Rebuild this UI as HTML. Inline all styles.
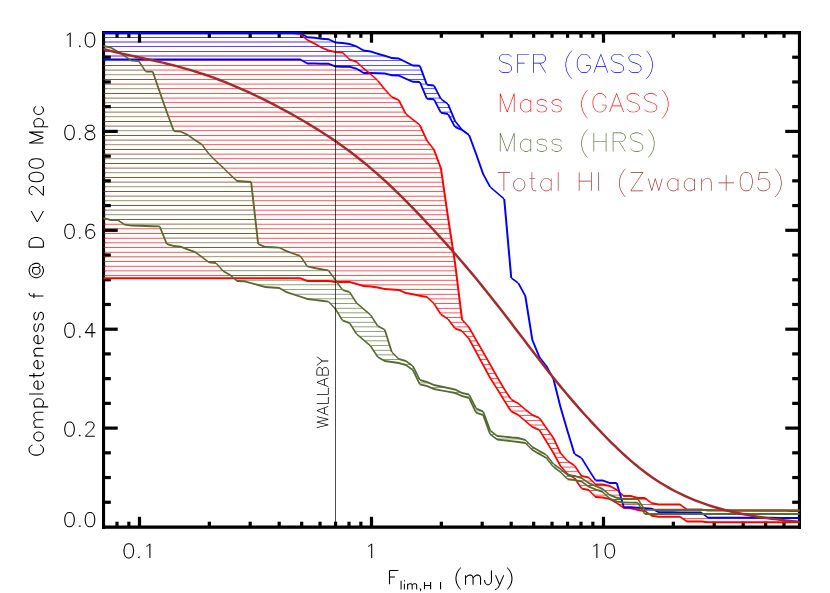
<!DOCTYPE html>
<html><head><meta charset="utf-8"><title>Completeness</title>
<style>
html,body{margin:0;padding:0;background:#fff;font-family:"Liberation Sans",sans-serif;}
svg{display:block}
</style></head><body>
<svg width="830" height="593" viewBox="0 0 830 593">
<rect width="830" height="593" fill="#fff"/>
<g stroke="none">
<path fill="#5a45e7" d="M103.5 37h200.65v1h-200.65zM103.5 46h3.16v1h-3.16zM106.66 46h213.33v1h-213.33zM103.5 51h13.79v1h-13.79zM117.29 51h215.15v1h-215.15zM302.44 60h50.76v1h-50.76zM332.53 65h27.8v1h-27.8z"/>
<path fill="#5454ff" d="M304.15 37h4.8v1h-4.8zM319.99 46h36.91v1h-36.91zM332.44 51h36.59v1h-36.59zM360.33 65h52.22v1h-52.22zM407.33 79h17.56v1h-17.56zM424.61 93h13.42v1h-13.42zM438.16 107h11.23v1h-11.23zM451.99 121h3.35v1h-3.35z"/>
<path fill="#b490de" d="M103.5 41h207.9v1h-207.9zM103.5 42h207.9v1h-207.9zM103.5 55h21.12v1h-21.12zM103.5 56h21.12v1h-21.12zM124.62 55h221.45v1h-221.45zM124.62 56h221.45v1h-221.45zM358.65 69h6.93v1h-6.93zM358.65 70h6.93v1h-6.93z"/>
<path fill="#ababff" d="M311.4 41h23.04v1h-23.04zM311.4 42h23.04v1h-23.04z"/>
<path fill="#fcfcff" d="M319.99 47h36.91v1h-36.91zM353.19 61h50.05v1h-50.05z"/>
<path fill="#aeaeff" d="M346.06 55h39.15v1h-39.15z"/>
<path fill="#a5a5ff" d="M346.06 56h39.15v1h-39.15z"/>
<path fill="#9fab8a" d="M103.5 60h29.67v1h-29.67zM103.5 74h50.28v1h-50.28zM103.5 88h55.11v1h-55.11zM103.5 102h60.01v1h-60.01zM103.5 116h65.03v1h-65.03zM103.5 130h70.21v1h-70.21zM103.5 144h98.62v1h-98.62zM103.5 158h110.25v1h-110.25zM103.5 172h124.83v1h-124.83zM103.5 186h148.18v1h-148.18zM103.5 200h149.77v1h-149.77zM103.5 214h151.36v1h-151.36zM160.72 228h95.73v1h-95.73zM166.31 242h91.72v1h-91.72zM201.74 256h99.2v1h-99.2zM222.91 270h105.91v1h-105.91zM403.33 364h7.11v1h-7.11zM579.54 480h6.34v1h-6.34zM605.98 494h3.9v1h-3.9zM641.78 508h2.53v1h-2.53z"/>
<path fill="#f6e7e4" d="M103.5 61h29.67v1h-29.67zM103.5 75h50.28v1h-50.28zM103.5 89h55.11v1h-55.11zM103.5 103h60.01v1h-60.01zM103.5 117h65.03v1h-65.03zM103.5 131h70.21v1h-70.21zM103.5 145h98.62v1h-98.62zM103.5 159h110.25v1h-110.25zM103.5 173h124.83v1h-124.83zM103.5 187h148.18v1h-148.18zM103.5 201h149.77v1h-149.77zM103.5 215h151.36v1h-151.36zM160.72 229h95.73v1h-95.73zM166.31 243h91.72v1h-91.72zM201.74 257h99.2v1h-99.2zM222.91 271h105.91v1h-105.91zM579.54 481h6.34v1h-6.34zM605.98 495h3.9v1h-3.9zM641.78 509h2.53v1h-2.53z"/>
<path fill="#ff5a5a" d="M133.17 60h169.27v1h-169.27zM490.36 378h7.6v1h-7.6zM499.23 392h7.2v1h-7.2zM519.08 415h14.85v1h-14.85zM538.65 429h8.95v1h-8.95z"/>
<path fill="#fffcfc" d="M133.17 61h169.27v1h-169.27zM490.36 377h7.6v1h-7.6zM499.23 391h7.2v1h-7.2zM519.08 416h14.85v1h-14.85zM538.65 430h8.95v1h-8.95z"/>
<path fill="#5a5aff" d="M353.19 60h50.05v1h-50.05z"/>
<path fill="#8a5730" d="M103.5 65h38.04v1h-38.04zM103.5 79h51.89v1h-51.89zM103.5 93h56.73v1h-56.73zM103.5 107h61.65v1h-61.65zM103.5 121h66.75v1h-66.75zM103.5 135h84.96v1h-84.96zM103.5 149h102.08v1h-102.08zM103.5 163h115.13v1h-115.13zM103.5 177h129.75v1h-129.75zM103.5 191h148.71v1h-148.71zM103.5 205h150.3v1h-150.3zM108.77 219h146.62v1h-146.62zM162.58 233h94.39v1h-94.39zM182.72 247h94.76v1h-94.76zM207.83 261h96.26v1h-96.26zM230.69 275h101.55v1h-101.55zM587.52 485h7.49v1h-7.49zM612.62 499h25.67v1h-25.67zM648.97 513h150.53v1h-150.53z"/>
<path fill="#ff5454" d="M141.54 65h190.99v1h-190.99zM155.39 79h221.16v1h-221.16zM160.23 93h228.21v1h-228.21zM165.15 107h237.33v1h-237.33zM170.25 121h245.02v1h-245.02zM188.46 135h236.13v1h-236.13zM205.58 149h228.3v1h-228.3zM218.63 163h220.45v1h-220.45zM233.25 177h209.01v1h-209.01zM252.21 191h192.07v1h-192.07zM253.8 205h192.52v1h-192.52zM103.5 219h5.27v1h-5.27zM255.39 219h192.98v1h-192.98zM103.5 233h59.08v1h-59.08zM256.98 233h193.53v1h-193.53zM103.5 247h79.22v1h-79.22zM277.48 247h175.17v1h-175.17zM103.5 261h104.33v1h-104.33zM304.09 261h150.7v1h-150.7zM103.5 275h127.19v1h-127.19zM332.24 275h124.34v1h-124.34zM392.61 289h65.71v1h-65.71zM433.97 303h26.09v1h-26.09zM445.78 317h16.03v1h-16.03zM462.57 331h8.77v1h-8.77zM472.65 345h6.74v1h-6.74zM480.23 359h7.2v1h-7.2zM487.81 373h7.5v1h-7.5zM496.33 387h7.1v1h-7.1zM504.96 401h9.92v1h-9.92zM507.92 406h13.62v1h-13.62zM524.55 420h16.48v1h-16.48zM542.04 434h8.84v1h-8.84zM550.61 448h7.69v1h-7.69zM558.51 462h11.15v1h-11.15zM575.93 476h7.5v1h-7.5zM589 490h9.18v1h-9.18zM604.3 490h13.2v1h-13.2zM618.71 504h20.16v1h-20.16zM641.3 504h16.64v1h-16.64zM682.49 518h117.01v1h-117.01z"/>
<path fill="#e1c3bd" d="M103.5 69h41.14v1h-41.14zM103.5 83h53.5v1h-53.5zM103.5 97h58.37v1h-58.37zM103.5 111h63.3v1h-63.3zM103.5 125h68.48v1h-68.48zM103.5 139h91.54v1h-91.54zM103.5 153h105.56v1h-105.56zM103.5 167h120.14v1h-120.14zM103.5 181h147.65v1h-147.65zM103.5 195h149.24v1h-149.24zM103.5 209h150.83v1h-150.83zM123.93 223h131.99v1h-131.99zM164.45 237h93.06v1h-93.06zM195.17 251h94.35v1h-94.35zM218.8 265h88.45v1h-88.45zM305.35 279h30.31v1h-30.31zM571.71 475h4.21v1h-4.21zM598.18 489h6.12v1h-6.12zM638.88 503h2.43v1h-2.43z"/>
<path fill="#bda88d" d="M103.5 70h41.14v1h-41.14zM103.5 84h53.5v1h-53.5zM103.5 98h58.37v1h-58.37zM103.5 112h63.3v1h-63.3zM103.5 126h68.48v1h-68.48zM103.5 140h91.54v1h-91.54zM103.5 154h105.56v1h-105.56zM103.5 168h120.14v1h-120.14zM103.5 182h147.65v1h-147.65zM103.5 196h149.24v1h-149.24zM103.5 210h150.83v1h-150.83zM123.93 224h131.99v1h-131.99zM164.45 238h93.06v1h-93.06zM195.17 252h94.35v1h-94.35zM218.8 266h88.45v1h-88.45zM305.35 280h30.31v1h-30.31zM571.71 476h4.21v1h-4.21zM598.18 490h6.12v1h-6.12zM638.88 504h2.43v1h-2.43z"/>
<path fill="#ffb4b4" d="M144.64 69h214.01v1h-214.01zM485.28 369h7.4v1h-7.4zM544.9 438h9.02v1h-9.02z"/>
<path fill="#ffa2a2" d="M144.64 70h214.01v1h-214.01zM485.28 368h7.4v1h-7.4zM544.9 439h9.02v1h-9.02z"/>
<path fill="#b4b4ff" d="M365.58 69h55.85v1h-55.85z"/>
<path fill="#a2a2ff" d="M365.58 70h55.85v1h-55.85z"/>
<path fill="#ff5d5d" d="M153.78 74h217.64v1h-217.64zM482.76 364h7.3v1h-7.3zM547.76 443h8.36v1h-8.36z"/>
<path fill="#fff6f6" d="M153.78 75h217.64v1h-217.64zM482.76 363h7.3v1h-7.3zM547.76 444h8.36v1h-8.36z"/>
<path fill="#5d5dff" d="M389.79 74h33.36v1h-33.36z"/>
<path fill="#f6f6ff" d="M389.79 75h33.36v1h-33.36z"/>
<path fill="#ffb7b7" d="M157 83h223.56v1h-223.56zM161.87 97h232.34v1h-232.34zM470.13 341h6.53v1h-6.53zM477.7 355h7.09v1h-7.09zM553.46 452h7.05v1h-7.05zM561.4 466h14.17v1h-14.17z"/>
<path fill="#ff9c9c" d="M157 84h223.56v1h-223.56zM161.87 98h232.34v1h-232.34zM477.7 354h7.09v1h-7.09zM553.46 453h7.05v1h-7.05zM561.4 467h14.17v1h-14.17z"/>
<path fill="#b7b7ff" d="M420.68 83h5.93v1h-5.93zM426.58 97h13.88v1h-13.88z"/>
<path fill="#9c9cff" d="M420.68 84h5.93v1h-5.93zM426.58 98h13.88v1h-13.88z"/>
<path fill="#ff6363" d="M158.61 88h225.64v1h-225.64zM475.18 350h6.95v1h-6.95zM555.99 457h8.62v1h-8.62z"/>
<path fill="#fff3f3" d="M158.61 89h225.64v1h-225.64zM475.18 349h6.95v1h-6.95zM555.99 458h8.62v1h-8.62z"/>
<path fill="#6363ff" d="M422.65 88h12.95v1h-12.95z"/>
<path fill="#f3f3ff" d="M422.65 89h12.95v1h-12.95z"/>
<path fill="#ff6666" d="M163.51 102h236.63v1h-236.63zM168.53 116h240.78v1h-240.78zM450.42 322h14.02v1h-14.02zM466.68 336h7.31v1h-7.31zM565.5 471h13.2v1h-13.2zM579.71 485h7.81v1h-7.81zM595.01 485h13.45v1h-13.45z"/>
<path fill="#ffeded" d="M163.51 103h236.63v1h-236.63zM168.53 117h240.78v1h-240.78zM466.68 335h7.31v1h-7.31zM565.5 472h13.2v1h-13.2zM579.71 486h7.81v1h-7.81zM595.01 486h13.45v1h-13.45z"/>
<path fill="#6666ff" d="M435.75 102h10.45v1h-10.45zM449.47 116h3.79v1h-3.79z"/>
<path fill="#ededff" d="M435.75 103h10.45v1h-10.45zM449.47 117h3.79v1h-3.79z"/>
<path fill="#ffbaba" d="M166.8 111h238.03v1h-238.03zM453.92 327h14.58v1h-14.58zM576.59 480h2.96v1h-2.96zM585.88 480h6.3v1h-6.3z"/>
<path fill="#ff9999" d="M166.8 112h238.03v1h-238.03zM453.92 326h14.58v1h-14.58zM470.13 340h6.53v1h-6.53zM576.59 481h2.96v1h-2.96zM585.88 481h6.3v1h-6.3z"/>
<path fill="#babaff" d="M440.58 111h10.75v1h-10.75z"/>
<path fill="#9999ff" d="M440.58 112h10.75v1h-10.75z"/>
<path fill="#ffc0c0" d="M171.98 125h248.37v1h-248.37zM439.94 313h21.28v1h-21.28zM593.69 494h12.29v1h-12.29zM609.89 494h12.83v1h-12.83z"/>
<path fill="#ff9696" d="M171.98 126h248.37v1h-248.37zM439.94 312h21.28v1h-21.28zM593.69 495h12.29v1h-12.29zM609.89 495h12.83v1h-12.83z"/>
<path fill="#c0c0ff" d="M454.52 125h4.6v1h-4.6z"/>
<path fill="#9696ff" d="M454.52 126h4.6v1h-4.6z"/>
<path fill="#ff6969" d="M173.71 130h248.76v1h-248.76zM436.96 308h23.69v1h-23.69zM611 499h1.61v1h-1.61zM638.29 499h8.87v1h-8.87z"/>
<path fill="#ffeaea" d="M173.71 131h248.76v1h-248.76zM436.96 307h23.69v1h-23.69zM450.42 321h14.02v1h-14.02zM611 500h1.61v1h-1.61zM638.29 500h8.87v1h-8.87z"/>
<path fill="#6969ff" d="M463.1 130h0.34v1h-0.34z"/>
<path fill="#eaeaff" d="M463.1 131h0.34v1h-0.34z"/>
<path fill="#ffc3c3" d="M195.04 139h231.67v1h-231.67zM209.06 153h226.57v1h-226.57zM428.95 299h30.53v1h-30.53zM634.27 508h7.52v1h-7.52zM644.31 508h42.12v1h-42.12z"/>
<path fill="#ff9090" d="M195.04 140h231.67v1h-231.67zM209.06 154h226.57v1h-226.57zM428.95 298h30.53v1h-30.53zM634.27 509h7.52v1h-7.52zM644.31 509h42.12v1h-42.12z"/>
<path fill="#ff6f6f" d="M202.12 144h228.11v1h-228.11zM412.3 294h46.6v1h-46.6z"/>
<path fill="#ffe4e4" d="M202.12 145h228.11v1h-228.11zM412.3 293h46.6v1h-46.6z"/>
<path fill="#ff7272" d="M213.75 158h223.6v1h-223.6zM228.33 172h213.25v1h-213.25zM335.65 280h121.5v1h-121.5z"/>
<path fill="#ffe1e1" d="M213.75 159h223.6v1h-223.6zM228.33 173h213.25v1h-213.25zM335.65 279h121.5v1h-121.5z"/>
<path fill="#ffc9c9" d="M223.64 167h217.18v1h-217.18zM103.5 271h119.41v1h-119.41zM328.82 271h127.18v1h-127.18zM359.72 285h98.02v1h-98.02z"/>
<path fill="#ff8d8d" d="M223.64 168h217.18v1h-217.18zM103.5 270h119.41v1h-119.41zM328.82 270h127.18v1h-127.18zM359.72 284h98.02v1h-98.02z"/>
<path fill="#ffcccc" d="M251.15 181h191.78v1h-191.78zM103.5 257h98.24v1h-98.24zM300.93 257h153.14v1h-153.14z"/>
<path fill="#ff8787" d="M251.15 182h191.78v1h-191.78zM103.5 256h98.24v1h-98.24zM300.93 256h153.14v1h-153.14z"/>
<path fill="#ff7878" d="M251.68 186h191.93v1h-191.93zM103.5 252h91.67v1h-91.67zM289.52 252h163.85v1h-163.85zM103.5 266h115.3v1h-115.3zM307.25 266h148.17v1h-148.17z"/>
<path fill="#ffdede" d="M251.68 187h191.93v1h-191.93zM103.5 251h91.67v1h-91.67zM289.52 251h163.85v1h-163.85zM103.5 265h115.3v1h-115.3zM307.25 265h148.17v1h-148.17z"/>
<path fill="#ffcfcf" d="M252.74 195h192.22v1h-192.22zM254.33 209h192.66v1h-192.66zM103.5 243h62.81v1h-62.81zM258.04 243h193.9v1h-193.9z"/>
<path fill="#ff8484" d="M252.74 196h192.22v1h-192.22zM254.33 210h192.66v1h-192.66zM103.5 242h62.81v1h-62.81zM258.04 242h193.9v1h-193.9z"/>
<path fill="#ff7b7b" d="M253.27 200h192.37v1h-192.37zM103.5 238h60.95v1h-60.95zM257.51 238h193.72v1h-193.72z"/>
<path fill="#ffd8d8" d="M253.27 201h192.37v1h-192.37zM103.5 237h60.95v1h-60.95zM257.51 237h193.72v1h-193.72z"/>
<path fill="#ff7e7e" d="M254.86 214h192.81v1h-192.81zM103.5 224h20.43v1h-20.43zM255.92 224h193.16v1h-193.16zM103.5 228h57.22v1h-57.22zM256.45 228h193.35v1h-193.35z"/>
<path fill="#ffd5d5" d="M254.86 215h192.81v1h-192.81zM103.5 223h20.43v1h-20.43zM255.92 223h193.16v1h-193.16zM103.5 229h57.22v1h-57.22zM256.45 229h193.35v1h-193.35z"/>
<path fill="#e4eae1" d="M236.16 279h69.19v1h-69.19z"/>
<path fill="#aeb799" d="M236.16 280h69.19v1h-69.19zM257.53 284h81.41v1h-81.41z"/>
<path fill="#e4e7db" d="M257.53 285h81.41v1h-81.41zM307.09 299h46.88v1h-46.88z"/>
<path fill="#93a27b" d="M282 289h60.22v1h-60.22zM340.75 317h31.56v1h-31.56zM355.06 331h30.28v1h-30.28zM370.2 345h19.54v1h-19.54zM414.61 373h2.06v1h-2.06zM430.76 387h15.59v1h-15.59zM470.83 401h1.85v1h-1.85zM490.38 434h4.72v1h-4.72zM526.02 443h3.01v1h-3.01zM545.91 457h2.62v1h-2.62zM549.83 462h2.34v1h-2.34zM564.71 476h7.01v1h-7.01z"/>
<path fill="#e7eae4" d="M293.02 293h57.97v1h-57.97z"/>
<path fill="#abb496" d="M293.02 294h57.97v1h-57.97z"/>
<path fill="#b1ba9f" d="M307.09 298h46.88v1h-46.88z"/>
<path fill="#909f78" d="M330.35 303h26.92v1h-26.92zM382.3 359h18.68v1h-18.68zM483.38 415h1.3v1h-1.3zM488.51 429h1.35v1h-1.35zM530.71 448h4.05v1h-4.05zM560.09 471h3.58v1h-3.58z"/>
<path fill="#eaede7" d="M334.78 307h27.95v1h-27.95zM347.47 321h27.82v1h-27.82z"/>
<path fill="#a8b493" d="M334.78 308h27.95v1h-27.95z"/>
<path fill="#b4bda2" d="M337.89 312h30.32v1h-30.32z"/>
<path fill="#e1e4d8" d="M337.89 313h30.32v1h-30.32z"/>
<path fill="#a5b190" d="M347.47 322h27.82v1h-27.82zM359.25 336h27.55v1h-27.55z"/>
<path fill="#b4c0a5" d="M352.07 326h27.42v1h-27.42zM364.72 340h23.55v1h-23.55z"/>
<path fill="#dee1d5" d="M352.07 327h27.42v1h-27.42z"/>
<path fill="#edf0ea" d="M359.25 335h27.55v1h-27.55z"/>
<path fill="#dbded2" d="M364.72 341h23.55v1h-23.55zM376.37 355h18.34v1h-18.34z"/>
<path fill="#f0f3ed" d="M373.39 349h17.81v1h-17.81z"/>
<path fill="#a2ae8d" d="M373.39 350h17.81v1h-17.81z"/>
<path fill="#b7c0a8" d="M376.37 354h18.34v1h-18.34z"/>
<path fill="#f3f6f0" d="M403.33 363h7.11v1h-7.11zM416.89 377h2.12v1h-2.12z"/>
<path fill="#bac3ab" d="M411.38 368h2.94v1h-2.94z"/>
<path fill="#d8dbcf" d="M411.38 369h2.94v1h-2.94z"/>
<path fill="#9ca887" d="M416.89 378h2.12v1h-2.12z"/>
<path fill="#bdc6ae" d="M419.17 382h10.02v1h-10.02zM465.54 396h4.79v1h-4.79z"/>
<path fill="#d5dbcc" d="M419.17 383h10.02v1h-10.02z"/>
<path fill="#ffa5a5" d="M493.35 382h7.35v1h-7.35zM530.03 425h14.29v1h-14.29z"/>
<path fill="#ffaeae" d="M493.35 383h7.35v1h-7.35zM530.03 424h14.29v1h-14.29z"/>
<path fill="#f6f9f6" d="M451.44 391h9.24v1h-9.24z"/>
<path fill="#99a581" d="M451.44 392h9.24v1h-9.24zM473.06 406h1.96v1h-1.96zM644.69 513h4.28v1h-4.28z"/>
<path fill="#d2d8c9" d="M465.54 397h4.79v1h-4.79z"/>
<path fill="#ffabab" d="M502.08 396h7.45v1h-7.45zM502.08 397h7.45v1h-7.45zM510.88 410h16.36v1h-16.36zM510.88 411h16.36v1h-16.36z"/>
<path fill="#f9f9f9" d="M473.06 405h1.96v1h-1.96zM644.69 514h4.28v1h-4.28z"/>
<path fill="#c0c9b4" d="M475.3 410h6.68v1h-6.68z"/>
<path fill="#cfd5c3" d="M475.3 411h6.68v1h-6.68zM486.8 425h1.33v1h-1.33z"/>
<path fill="#fcfcfc" d="M485.09 419h1.32v1h-1.32zM490.38 433h4.72v1h-4.72z"/>
<path fill="#96a57e" d="M485.09 420h1.32v1h-1.32z"/>
<path fill="#c3ccb7" d="M486.8 424h1.33v1h-1.33z"/>
<path fill="#c6cfba" d="M496.57 438h25.34v1h-25.34zM537.7 452h5.27v1h-5.27zM553.52 467h4.22v1h-4.22z"/>
<path fill="#ccd2c0" d="M496.57 439h25.34v1h-25.34z"/>
<path fill="#c9cfbd" d="M537.7 453h5.27v1h-5.27zM553.52 466h4.22v1h-4.22z"/>
</g>
<g fill="#000">
<rect x="102" y="31" width="699" height="3.4"/>
<rect x="102" y="525.5" width="699" height="3.3"/>
<rect x="102" y="31" width="3.1" height="497.8"/>
<rect x="797.9" y="31" width="3.1" height="497.8"/>
<rect x="137.9" y="516.8" width="3.2" height="10.2"/>
<rect x="137.9" y="32.5" width="3.2" height="10.2"/>
<rect x="369.9" y="516.8" width="3.2" height="10.2"/>
<rect x="369.9" y="32.5" width="3.2" height="10.2"/>
<rect x="601.9" y="516.8" width="3.2" height="10.2"/>
<rect x="601.9" y="32.5" width="3.2" height="10.2"/>
<rect x="115.42" y="521.7" width="3.2" height="5.3"/>
<rect x="115.42" y="32.5" width="3.2" height="5.3"/>
<rect x="127.28" y="521.7" width="3.2" height="5.3"/>
<rect x="127.28" y="32.5" width="3.2" height="5.3"/>
<rect x="207.74" y="521.7" width="3.2" height="5.3"/>
<rect x="207.74" y="32.5" width="3.2" height="5.3"/>
<rect x="248.59" y="521.7" width="3.2" height="5.3"/>
<rect x="248.59" y="32.5" width="3.2" height="5.3"/>
<rect x="277.58" y="521.7" width="3.2" height="5.3"/>
<rect x="277.58" y="32.5" width="3.2" height="5.3"/>
<rect x="300.06" y="521.7" width="3.2" height="5.3"/>
<rect x="300.06" y="32.5" width="3.2" height="5.3"/>
<rect x="318.43" y="521.7" width="3.2" height="5.3"/>
<rect x="318.43" y="32.5" width="3.2" height="5.3"/>
<rect x="333.96" y="521.7" width="3.2" height="5.3"/>
<rect x="333.96" y="32.5" width="3.2" height="5.3"/>
<rect x="347.42" y="521.7" width="3.2" height="5.3"/>
<rect x="347.42" y="32.5" width="3.2" height="5.3"/>
<rect x="359.28" y="521.7" width="3.2" height="5.3"/>
<rect x="359.28" y="32.5" width="3.2" height="5.3"/>
<rect x="439.74" y="521.7" width="3.2" height="5.3"/>
<rect x="439.74" y="32.5" width="3.2" height="5.3"/>
<rect x="480.59" y="521.7" width="3.2" height="5.3"/>
<rect x="480.59" y="32.5" width="3.2" height="5.3"/>
<rect x="509.58" y="521.7" width="3.2" height="5.3"/>
<rect x="509.58" y="32.5" width="3.2" height="5.3"/>
<rect x="532.06" y="521.7" width="3.2" height="5.3"/>
<rect x="532.06" y="32.5" width="3.2" height="5.3"/>
<rect x="550.43" y="521.7" width="3.2" height="5.3"/>
<rect x="550.43" y="32.5" width="3.2" height="5.3"/>
<rect x="565.96" y="521.7" width="3.2" height="5.3"/>
<rect x="565.96" y="32.5" width="3.2" height="5.3"/>
<rect x="579.42" y="521.7" width="3.2" height="5.3"/>
<rect x="579.42" y="32.5" width="3.2" height="5.3"/>
<rect x="591.28" y="521.7" width="3.2" height="5.3"/>
<rect x="591.28" y="32.5" width="3.2" height="5.3"/>
<rect x="671.74" y="521.7" width="3.2" height="5.3"/>
<rect x="671.74" y="32.5" width="3.2" height="5.3"/>
<rect x="712.59" y="521.7" width="3.2" height="5.3"/>
<rect x="712.59" y="32.5" width="3.2" height="5.3"/>
<rect x="741.58" y="521.7" width="3.2" height="5.3"/>
<rect x="741.58" y="32.5" width="3.2" height="5.3"/>
<rect x="764.06" y="521.7" width="3.2" height="5.3"/>
<rect x="764.06" y="32.5" width="3.2" height="5.3"/>
<rect x="782.43" y="521.7" width="3.2" height="5.3"/>
<rect x="782.43" y="32.5" width="3.2" height="5.3"/>
<rect x="103.5" y="500.67" width="7.3" height="3.2"/>
<rect x="792.2" y="500.67" width="7.3" height="3.2"/>
<rect x="103.5" y="475.95" width="7.3" height="3.2"/>
<rect x="792.2" y="475.95" width="7.3" height="3.2"/>
<rect x="103.5" y="451.22" width="7.3" height="3.2"/>
<rect x="792.2" y="451.22" width="7.3" height="3.2"/>
<rect x="103.5" y="426.5" width="14.2" height="3.2"/>
<rect x="785.3" y="426.5" width="14.2" height="3.2"/>
<rect x="103.5" y="401.77" width="7.3" height="3.2"/>
<rect x="792.2" y="401.77" width="7.3" height="3.2"/>
<rect x="103.5" y="377.05" width="7.3" height="3.2"/>
<rect x="792.2" y="377.05" width="7.3" height="3.2"/>
<rect x="103.5" y="352.32" width="7.3" height="3.2"/>
<rect x="792.2" y="352.32" width="7.3" height="3.2"/>
<rect x="103.5" y="327.6" width="14.2" height="3.2"/>
<rect x="785.3" y="327.6" width="14.2" height="3.2"/>
<rect x="103.5" y="302.88" width="7.3" height="3.2"/>
<rect x="792.2" y="302.88" width="7.3" height="3.2"/>
<rect x="103.5" y="278.15" width="7.3" height="3.2"/>
<rect x="792.2" y="278.15" width="7.3" height="3.2"/>
<rect x="103.5" y="253.42" width="7.3" height="3.2"/>
<rect x="792.2" y="253.42" width="7.3" height="3.2"/>
<rect x="103.5" y="228.7" width="14.2" height="3.2"/>
<rect x="785.3" y="228.7" width="14.2" height="3.2"/>
<rect x="103.5" y="203.97" width="7.3" height="3.2"/>
<rect x="792.2" y="203.97" width="7.3" height="3.2"/>
<rect x="103.5" y="179.25" width="7.3" height="3.2"/>
<rect x="792.2" y="179.25" width="7.3" height="3.2"/>
<rect x="103.5" y="154.53" width="7.3" height="3.2"/>
<rect x="792.2" y="154.53" width="7.3" height="3.2"/>
<rect x="103.5" y="129.8" width="14.2" height="3.2"/>
<rect x="785.3" y="129.8" width="14.2" height="3.2"/>
<rect x="103.5" y="105.07" width="7.3" height="3.2"/>
<rect x="792.2" y="105.07" width="7.3" height="3.2"/>
<rect x="103.5" y="80.35" width="7.3" height="3.2"/>
<rect x="792.2" y="80.35" width="7.3" height="3.2"/>
<rect x="103.5" y="55.62" width="7.3" height="3.2"/>
<rect x="792.2" y="55.62" width="7.3" height="3.2"/>
</g>
<g stroke="none">
<path fill="#15009f" d="M103.5 37h1.6v1h-1.6zM103.5 46h1.6v1h-1.6zM103.5 51h1.6v1h-1.6z"/>
<path fill="#24004e" d="M103.5 41h1.6v1h-1.6zM103.5 42h1.6v1h-1.6zM103.5 55h1.6v1h-1.6zM103.5 56h1.6v1h-1.6z"/>
<path fill="#182100" d="M103.5 60h1.6v1h-1.6zM103.5 74h1.6v1h-1.6zM103.5 88h1.6v1h-1.6zM103.5 102h1.6v1h-1.6zM103.5 116h1.6v1h-1.6zM103.5 130h1.6v1h-1.6zM103.5 144h1.6v1h-1.6zM103.5 158h1.6v1h-1.6zM103.5 172h1.6v1h-1.6zM103.5 186h1.6v1h-1.6zM103.5 200h1.6v1h-1.6zM103.5 214h1.6v1h-1.6z"/>
<path fill="#120300" d="M103.5 61h1.6v1h-1.6zM103.5 75h1.6v1h-1.6zM103.5 89h1.6v1h-1.6zM103.5 103h1.6v1h-1.6zM103.5 117h1.6v1h-1.6zM103.5 131h1.6v1h-1.6zM103.5 145h1.6v1h-1.6zM103.5 159h1.6v1h-1.6zM103.5 173h1.6v1h-1.6zM103.5 187h1.6v1h-1.6zM103.5 201h1.6v1h-1.6zM103.5 215h1.6v1h-1.6z"/>
<path fill="#5a2700" d="M103.5 65h1.6v1h-1.6zM103.5 79h1.6v1h-1.6zM103.5 93h1.6v1h-1.6zM103.5 107h1.6v1h-1.6zM103.5 121h1.6v1h-1.6zM103.5 135h1.6v1h-1.6zM103.5 149h1.6v1h-1.6zM103.5 163h1.6v1h-1.6zM103.5 177h1.6v1h-1.6zM103.5 191h1.6v1h-1.6zM103.5 205h1.6v1h-1.6z"/>
<path fill="#240600" d="M103.5 69h1.6v1h-1.6zM103.5 83h1.6v1h-1.6zM103.5 97h1.6v1h-1.6zM103.5 111h1.6v1h-1.6zM103.5 125h1.6v1h-1.6zM103.5 139h1.6v1h-1.6zM103.5 153h1.6v1h-1.6zM103.5 167h1.6v1h-1.6zM103.5 181h1.6v1h-1.6zM103.5 195h1.6v1h-1.6zM103.5 209h1.6v1h-1.6z"/>
<path fill="#331b00" d="M103.5 70h1.6v1h-1.6zM103.5 84h1.6v1h-1.6zM103.5 98h1.6v1h-1.6zM103.5 112h1.6v1h-1.6zM103.5 126h1.6v1h-1.6zM103.5 140h1.6v1h-1.6zM103.5 154h1.6v1h-1.6zM103.5 168h1.6v1h-1.6zM103.5 182h1.6v1h-1.6zM103.5 196h1.6v1h-1.6zM103.5 210h1.6v1h-1.6z"/>
<path fill="#ab0000" d="M103.5 219h1.6v1h-1.6zM103.5 233h1.6v1h-1.6zM103.5 247h1.6v1h-1.6zM103.5 261h1.6v1h-1.6zM103.5 275h1.6v1h-1.6z"/>
<path fill="#2a0000" d="M103.5 223h1.6v1h-1.6zM103.5 229h1.6v1h-1.6z"/>
<path fill="#7e0000" d="M103.5 224h1.6v1h-1.6zM103.5 228h1.6v1h-1.6z"/>
<path fill="#270000" d="M103.5 237h1.6v1h-1.6z"/>
<path fill="#840000" d="M103.5 238h1.6v1h-1.6z"/>
<path fill="#7b0000" d="M103.5 242h1.6v1h-1.6z"/>
<path fill="#300000" d="M103.5 243h1.6v1h-1.6z"/>
<path fill="#210000" d="M103.5 251h1.6v1h-1.6zM103.5 265h1.6v1h-1.6z"/>
<path fill="#870000" d="M103.5 252h1.6v1h-1.6zM103.5 266h1.6v1h-1.6z"/>
<path fill="#780000" d="M103.5 256h1.6v1h-1.6z"/>
<path fill="#330000" d="M103.5 257h1.6v1h-1.6z"/>
<path fill="#720000" d="M103.5 270h1.6v1h-1.6z"/>
<path fill="#360000" d="M103.5 271h1.6v1h-1.6z"/>
</g>
<g stroke="none">
<path fill="#0000ff" d="M103.5 58.5L110.53 58.5L110.53 60.5L103.5 60.5zM110.53 58.5L117.56 58.5L117.56 60.5L110.53 60.5zM117.56 58.5L124.59 58.5L124.59 60.5L117.56 60.5zM124.59 58.5L131.62 58.5L131.62 60.5L124.59 60.5zM131.62 58.5L138.65 58.5L138.65 60.5L131.62 60.5zM138.65 58.5L145.68 58.5L145.68 60.5L138.65 60.5zM145.68 58.5L152.71 58.5L152.71 60.5L145.68 60.5zM152.71 58.5L159.74 58.5L159.74 60.5L152.71 60.5zM159.74 58.5L166.77 58.5L166.77 60.5L159.74 60.5zM166.77 58.5L173.8 58.5L173.8 60.5L166.77 60.5zM173.8 58.5L180.83 58.5L180.83 60.5L173.8 60.5zM180.83 58.5L187.86 58.5L187.86 60.5L180.83 60.5zM187.86 58.5L194.89 58.5L194.89 60.5L187.86 60.5zM194.89 58.5L201.92 58.5L201.92 60.5L194.89 60.5zM201.92 58.5L208.95 58.5L208.95 60.5L201.92 60.5zM208.95 58.5L215.98 58.5L215.98 60.5L208.95 60.5zM215.98 58.5L223.02 58.5L223.02 60.5L215.98 60.5zM223.02 58.5L230.05 58.5L230.05 60.5L223.02 60.5zM230.05 58.5L237.08 58.5L237.08 60.5L230.05 60.5zM237.08 58.5L244.11 58.5L244.11 60.5L237.08 60.5zM244.11 58.5L251.14 58.5L251.14 60.5L244.11 60.5zM251.14 58.5L258.17 58.5L258.17 60.5L251.14 60.5zM258.17 58.5L265.2 58.5L265.2 60.5L258.17 60.5zM265.2 58.5L272.23 58.5L272.23 60.5L265.2 60.5zM272.23 58.5L279.26 58.5L279.26 60.5L272.23 60.5zM279.26 58.5L286.29 58.5L286.29 60.5L279.26 60.5zM286.29 58.5L293.32 58.5L293.32 60.5L286.29 60.5zM293.32 58.5L300.35 58.5L300.35 60.5L293.32 60.5zM300.35 58.5L307.38 62.5L307.38 64.5L300.35 60.5zM307.38 62.5L314.41 62.6L314.41 64.6L307.38 64.5zM314.41 62.6L321.44 62.7L321.44 64.7L314.41 64.6zM321.44 62.7L328.47 62.8L328.47 64.8L321.44 64.7zM328.47 62.8L335.5 65.5L335.5 67.5L328.47 64.8zM335.5 65.5L342.53 65.65L342.53 67.65L335.5 67.5zM342.53 65.65L349.56 65.8L349.56 67.8L342.53 67.65zM349.56 65.8L356.59 67.8L356.59 69.8L349.56 67.8zM356.59 67.8L363.62 72L363.62 74L356.59 69.8zM363.62 72L370.65 72.1L370.65 74.1L363.62 74zM370.65 72.1L377.68 72.2L377.68 74.2L370.65 74.1zM377.68 72.2L384.71 72.4L384.71 74.4L377.68 74.2zM384.71 72.4L391.74 74.2L391.74 76.2L384.71 74.4zM391.74 74.2L398.77 74.6L398.77 76.6L391.74 76.2zM398.77 74.6L405.8 77.7L405.8 79.7L398.77 76.6zM405.8 77.7L412.83 80.8L412.83 82.8L405.8 79.7zM412.83 80.8L419.86 81.1L419.86 83.1L412.83 82.8zM420.86 82.1L427.89 98.8L425.89 98.8L418.86 82.1zM426.89 97.8L433.92 98.2L433.92 100.2L426.89 99.8zM434.92 99.2L441.95 112.8L439.95 112.8L432.92 99.2zM440.95 111.8L447.98 113L447.98 115L440.95 113.8zM448.98 114L456.02 127L454.02 127L446.98 114zM455.02 126L462.05 129L462.05 131L455.02 128zM462.05 129L469.08 134L469.08 136L462.05 131z"/>
<path fill="#ff0000" d="M103.5 277.3L110.53 277.3L110.53 279.3L103.5 279.3zM110.53 277.3L117.56 277.3L117.56 279.3L110.53 279.3zM117.56 277.3L124.59 277.3L124.59 279.3L117.56 279.3zM124.59 277.3L131.62 277.3L131.62 279.3L124.59 279.3zM131.62 277.3L138.65 277.3L138.65 279.3L131.62 279.3zM138.65 277.3L145.68 277.3L145.68 279.3L138.65 279.3zM145.68 277.3L152.71 277.3L152.71 279.3L145.68 279.3zM152.71 277.3L159.74 277.3L159.74 279.3L152.71 279.3zM159.74 277.3L166.77 277.3L166.77 279.3L159.74 279.3zM166.77 277.3L173.8 277.3L173.8 279.3L166.77 279.3zM173.8 277.3L180.83 277.3L180.83 279.3L173.8 279.3zM180.83 277.3L187.86 277.3L187.86 279.3L180.83 279.3zM187.86 277.3L194.89 277.3L194.89 279.3L187.86 279.3zM194.89 277.3L201.92 277.3L201.92 279.3L194.89 279.3zM201.92 277.3L208.95 277.3L208.95 279.3L201.92 279.3zM208.95 277.3L215.98 277.3L215.98 279.3L208.95 279.3zM215.98 277.3L223.02 277.3L223.02 279.3L215.98 279.3zM223.02 277.3L230.05 277.3L230.05 279.3L223.02 279.3zM230.05 277.3L237.08 277.3L237.08 279.3L230.05 279.3zM237.08 277.3L244.11 277.3L244.11 279.3L237.08 279.3zM244.11 277.3L251.14 277.3L251.14 279.3L244.11 279.3zM251.14 277.3L258.17 277.3L258.17 279.3L251.14 279.3zM258.17 277.3L265.2 277.3L265.2 279.3L258.17 279.3zM265.2 277.3L272.23 277.3L272.23 279.3L265.2 279.3zM272.23 277.3L279.26 277.3L279.26 279.3L272.23 279.3zM279.26 277.3L286.29 277.3L286.29 279.3L279.26 279.3zM286.29 277.3L293.32 277.3L293.32 279.3L286.29 279.3zM293.32 277.3L300.35 277.3L300.35 279.3L293.32 279.3zM300.35 277.3L307.38 280L307.38 282L300.35 279.3zM307.38 280L314.41 280L314.41 282L307.38 282zM314.41 280L321.44 280L321.44 282L314.41 282zM321.44 280L328.47 280L328.47 282L321.44 282zM328.47 280L335.5 281L335.5 283L328.47 282zM335.5 281L342.53 281L342.53 283L335.5 283zM342.53 281L349.56 281L349.56 283L342.53 283zM349.56 281L356.59 283L356.59 285L349.56 283zM356.59 283L363.62 285L363.62 287L356.59 285zM363.62 285L370.65 285.4L370.65 287.4L363.62 287zM370.65 285.4L377.68 286.6L377.68 288.6L370.65 287.4zM377.68 286.6L384.71 288L384.71 290L377.68 288.6zM384.71 288L391.74 288.5L391.74 290.5L384.71 290zM391.74 288.5L398.77 289L398.77 291L391.74 290.5zM398.77 289L405.8 292L405.8 294L398.77 291zM405.8 292L412.83 293.33L412.83 295.33L405.8 294zM412.83 293.33L419.86 294.67L419.86 296.67L412.83 295.33zM419.86 294.67L426.89 296L426.89 298L419.86 296.67zM426.89 296L433.92 302.5L433.92 304.5L426.89 298zM434.92 303.5L441.95 314.5L439.95 314.5L432.92 303.5zM440.95 313.5L447.98 318L447.98 320L440.95 315.5zM448.98 319L456.02 328.4L454.02 328.4L446.98 319zM455.02 327.4L462.05 330L462.05 332L455.02 329.4zM463.05 331L470.08 339L468.08 339L461.05 331zM470.08 339L477.11 352L475.11 352L468.08 339zM477.11 352L484.14 365L482.14 365L475.11 352zM484.14 365L491.17 378L489.17 378L482.14 365zM491.17 378L498.2 389L496.2 389L489.17 378zM498.2 389L505.23 400.5L503.23 400.5L496.2 389zM505.23 400.5L512.26 411.6L510.26 411.6L503.23 400.5zM511.26 410.6L518.29 414L518.29 416L511.26 412.6zM518.29 414L525.32 420L525.32 422L518.29 416zM525.32 420L532.35 426L532.35 428L525.32 422zM532.35 426L539.38 429L539.38 431L532.35 428zM540.38 430L547.41 441.5L545.41 441.5L538.38 430zM547.41 441.5L554.44 453L552.44 453L545.41 441.5zM554.44 453L561.47 466L559.47 466L552.44 453zM561.47 466L568.5 474L566.5 474L559.47 466zM567.5 473L574.53 477L574.53 479L567.5 475zM575.53 478L582.56 488.5L580.56 488.5L573.53 478zM581.56 487.5L588.59 489L588.59 491L581.56 489.5zM588.59 489L595.62 496L595.62 498L588.59 491zM595.62 496L602.65 496.5L602.65 498.5L595.62 498zM602.65 496.5L609.68 498L609.68 500L602.65 498.5zM609.68 498L616.71 502L616.71 504L609.68 500zM616.71 502L623.74 507L623.74 509L616.71 504zM623.74 507L630.77 507.2L630.77 509.2L623.74 509zM630.77 507.2L637.8 509L637.8 511L630.77 509.2zM637.8 509L644.83 510L644.83 512L637.8 511zM644.83 510L651.86 514.7L651.86 516.7L644.83 512zM651.86 514.7L658.89 515.8L658.89 517.8L651.86 516.7zM658.89 515.8L665.92 515.8L665.92 517.8L658.89 517.8zM665.92 515.8L672.95 515.8L672.95 517.8L665.92 517.8zM672.95 515.8L679.98 515.8L679.98 517.8L672.95 517.8zM679.98 515.8L687.02 520.4L687.02 522.4L679.98 517.8zM687.02 520.4L694.05 520.4L694.05 522.4L687.02 522.4zM694.05 520.4L701.08 520.4L701.08 522.4L694.05 522.4zM701.08 520.4L708.11 521.3L708.11 523.3L701.08 522.4zM708.11 521.3L715.14 521.3L715.14 523.3L708.11 523.3zM715.14 521.3L722.17 521.3L722.17 523.3L715.14 523.3zM722.17 521.3L729.2 521.3L729.2 523.3L722.17 523.3zM729.2 521.3L736.23 521.3L736.23 523.3L729.2 523.3zM736.23 521.3L743.26 521.3L743.26 523.3L736.23 523.3zM743.26 521.3L750.29 521.3L750.29 523.3L743.26 523.3zM750.29 521.3L757.32 521.3L757.32 523.3L750.29 523.3zM757.32 521.3L764.35 521.3L764.35 523.3L757.32 523.3zM764.35 521.3L771.38 521.3L771.38 523.3L764.35 523.3zM771.38 521.3L778.41 521.3L778.41 523.3L771.38 523.3zM778.41 521.3L785.44 521.3L785.44 523.3L778.41 523.3zM785.44 521.3L792.47 521.3L792.47 523.3L785.44 523.3zM792.47 521.3L799.5 521.3L799.5 523.3L792.47 523.3z"/>
<path fill="#ff0000" d="M103.5 32L110.53 32L110.53 34L103.5 34zM110.53 32L117.56 32L117.56 34L110.53 34zM117.56 32L124.59 32L124.59 34L117.56 34zM124.59 32L131.62 32L131.62 34L124.59 34zM131.62 32L138.65 32L138.65 34L131.62 34zM138.65 32L145.68 32L145.68 34L138.65 34zM145.68 32L152.71 32L152.71 34L145.68 34zM152.71 32L159.74 32L159.74 34L152.71 34zM159.74 32L166.77 32L166.77 34L159.74 34zM166.77 32L173.8 32L173.8 34L166.77 34zM173.8 32L180.83 32L180.83 34L173.8 34zM180.83 32L187.86 32L187.86 34L180.83 34zM187.86 32L194.89 32L194.89 34L187.86 34zM194.89 32L201.92 32L201.92 34L194.89 34zM201.92 32L208.95 32L208.95 34L201.92 34zM208.95 32L215.98 32L215.98 34L208.95 34zM215.98 32L223.02 32L223.02 34L215.98 34zM223.02 32L230.05 32L230.05 34L223.02 34zM230.05 32L237.08 32L237.08 34L230.05 34zM237.08 32L244.11 32L244.11 34L237.08 34zM244.11 32L251.14 32L251.14 34L244.11 34zM251.14 32L258.17 32L258.17 34L251.14 34zM258.17 32L265.2 32L265.2 34L258.17 34zM265.2 32L272.23 32L272.23 34L265.2 34zM272.23 32L279.26 32L279.26 34L272.23 34zM279.26 32L286.29 32L286.29 34L279.26 34zM286.29 32L293.32 32L293.32 34L286.29 34zM293.32 32L300.35 33.2L300.35 35.2L293.32 34zM300.35 33.2L307.38 39L307.38 41L300.35 35.2zM307.38 39L314.41 42.5L314.41 44.5L307.38 41zM314.41 42.5L321.44 46.5L321.44 48.5L314.41 44.5zM321.44 46.5L328.47 49.5L328.47 51.5L321.44 48.5zM328.47 49.5L335.5 51L335.5 53L328.47 51.5zM335.5 51L342.53 51.5L342.53 53.5L335.5 53zM342.53 51.5L349.56 58.5L349.56 60.5L342.53 53.5zM349.56 58.5L356.59 60.8L356.59 62.8L349.56 60.5zM356.59 60.8L363.62 67.5L363.62 69.5L356.59 62.8zM363.62 67.5L370.65 73L370.65 75L363.62 69.5zM370.65 73L377.68 79.4L377.68 81.4L370.65 75zM378.68 80.4L385.71 89.3L383.71 89.3L376.68 80.4zM385.71 89.3L392.74 97L390.74 97L383.71 89.3zM391.74 96L398.77 99L398.77 101L391.74 98zM399.77 100L406.8 114L404.8 114L397.77 100zM405.8 113L412.83 118.5L412.83 120.5L405.8 115zM412.83 118.5L419.86 124L419.86 126L412.83 120.5zM420.86 125L427.89 140.5L425.89 140.5L418.86 125zM427.89 140.5L434.92 149.5L432.92 149.5L425.89 140.5zM434.92 149.5L441.95 168.5L439.95 168.5L432.92 149.5zM441.95 168.5L448.98 217L446.98 217L439.95 168.5zM448.98 217L456.02 263L454.02 263L446.98 217zM456.02 263L463.05 319.5L461.05 319.5L454.02 263zM463.05 319.5L470.08 327.6L468.08 327.6L461.05 319.5zM470.08 327.6L477.11 340L475.11 340L468.08 327.6zM477.11 340L484.14 352L482.14 352L475.11 340zM484.14 352L491.17 364.5L489.17 364.5L482.14 352zM491.17 364.5L498.2 377L496.2 377L489.17 364.5zM498.2 377L505.23 389L503.23 389L496.2 377zM505.23 389L512.26 399.6L510.26 399.6L503.23 389zM511.26 398.6L518.29 402.6L518.29 404.6L511.26 400.6zM518.29 402.6L525.32 408.5L525.32 410.5L518.29 404.6zM525.32 408.5L532.35 414L532.35 416L525.32 410.5zM532.35 414L539.38 417L539.38 419L532.35 416zM540.38 418L547.41 428L545.41 428L538.38 418zM547.41 428L554.44 438L552.44 438L545.41 428zM554.44 438L561.47 453L559.47 453L552.44 438zM561.47 453L568.5 461L566.5 461L559.47 453zM567.5 460L574.53 464.5L574.53 466.5L567.5 462zM575.53 465.5L582.56 476L580.56 476L573.53 465.5zM581.56 475L588.59 476.5L588.59 478.5L581.56 477zM588.59 476.5L595.62 483.5L595.62 485.5L588.59 478.5zM595.62 483.5L602.65 483.5L602.65 485.5L595.62 485.5zM602.65 483.5L609.68 485L609.68 487L602.65 485.5zM609.68 485L616.71 488.7L616.71 490.7L609.68 487zM616.71 488.7L623.74 495L623.74 497L616.71 490.7zM623.74 495L630.77 495L630.77 497L623.74 497zM630.77 495L637.8 497L637.8 499L630.77 497zM637.8 497L644.83 497L644.83 499L637.8 499zM644.83 497L651.86 502.3L651.86 504.3L644.83 499zM651.86 502.3L658.89 503.6L658.89 505.6L651.86 504.3zM658.89 503.6L665.92 503.6L665.92 505.6L658.89 505.6zM665.92 503.6L672.95 503.6L672.95 505.6L665.92 505.6zM672.95 503.6L679.98 503.6L679.98 505.6L672.95 505.6zM679.98 503.6L687.02 508.5L687.02 510.5L679.98 505.6zM687.02 508.5L694.05 508.55L694.05 510.55L687.02 510.5zM694.05 508.55L701.08 508.6L701.08 510.6L694.05 510.55zM701.08 508.6L708.11 509.5L708.11 511.5L701.08 510.6zM708.11 509.5L715.14 509.6L715.14 511.6L708.11 511.5zM715.14 509.6L722.17 509.62L722.17 511.62L715.14 511.6zM722.17 509.62L729.2 509.65L729.2 511.65L722.17 511.62zM729.2 509.65L736.23 509.68L736.23 511.68L729.2 511.65zM736.23 509.68L743.26 509.7L743.26 511.7L736.23 511.68zM743.26 509.7L750.29 509.73L750.29 511.73L743.26 511.7zM750.29 509.73L757.32 509.75L757.32 511.75L750.29 511.73zM757.32 509.75L764.35 509.77L764.35 511.77L757.32 511.75zM764.35 509.77L771.38 509.8L771.38 511.8L764.35 511.77zM771.38 509.8L778.41 509.82L778.41 511.82L771.38 511.8zM778.41 509.82L785.44 509.85L785.44 511.85L778.41 511.82zM785.44 509.85L792.47 509.88L792.47 511.88L785.44 511.85zM792.47 509.88L799.5 509.9L799.5 511.9L792.47 511.88z"/>
<path fill="#0000ff" d="M103.5 32L110.53 32L110.53 34L103.5 34zM110.53 32L117.56 32L117.56 34L110.53 34zM117.56 32L124.59 32L124.59 34L117.56 34zM124.59 32L131.62 32L131.62 34L124.59 34zM131.62 32L138.65 32L138.65 34L131.62 34zM138.65 32L145.68 32L145.68 34L138.65 34zM145.68 32L152.71 32L152.71 34L145.68 34zM152.71 32L159.74 32L159.74 34L152.71 34zM159.74 32L166.77 32L166.77 34L159.74 34zM166.77 32L173.8 32L173.8 34L166.77 34zM173.8 32L180.83 32L180.83 34L173.8 34zM180.83 32L187.86 32L187.86 34L180.83 34zM187.86 32L194.89 32L194.89 34L187.86 34zM194.89 32L201.92 32L201.92 34L194.89 34zM201.92 32L208.95 32L208.95 34L201.92 34zM208.95 32L215.98 32L215.98 34L208.95 34zM215.98 32L223.02 32L223.02 34L215.98 34zM223.02 32L230.05 32L230.05 34L223.02 34zM230.05 32L237.08 32L237.08 34L230.05 34zM237.08 32L244.11 32L244.11 34L237.08 34zM244.11 32L251.14 32L251.14 34L244.11 34zM251.14 32L258.17 32L258.17 34L251.14 34zM258.17 32L265.2 32L265.2 34L258.17 34zM265.2 32L272.23 32L272.23 34L265.2 34zM272.23 32L279.26 32L279.26 34L272.23 34zM279.26 32L286.29 32L286.29 34L279.26 34zM286.29 32L293.32 32L293.32 34L286.29 34zM293.32 32L300.35 32L300.35 34L293.32 34zM300.35 32L307.38 36.2L307.38 38.2L300.35 34zM307.38 36.2L314.41 36.8L314.41 38.8L307.38 38.2zM314.41 36.8L321.44 37.8L321.44 39.8L314.41 38.8zM321.44 37.8L328.47 38.2L328.47 40.2L321.44 39.8zM328.47 38.2L335.5 41.5L335.5 43.5L328.47 40.2zM335.5 41.5L342.53 42L342.53 44L335.5 43.5zM342.53 42L349.56 43L349.56 45L342.53 44zM349.56 43L356.59 45.5L356.59 47.5L349.56 45zM356.59 45.5L363.62 49.5L363.62 51.5L356.59 47.5zM363.62 49.5L370.65 50.6L370.65 52.6L363.62 51.5zM370.65 50.6L377.68 52.73L377.68 54.73L370.65 52.6zM377.68 52.73L384.71 54.87L384.71 56.87L377.68 54.73zM384.71 54.87L391.74 57L391.74 59L384.71 56.87zM391.74 57L398.77 57.4L398.77 59.4L391.74 59zM398.77 57.4L405.8 61L405.8 63L398.77 59.4zM405.8 61L412.83 64.5L412.83 66.5L405.8 63zM412.83 64.5L419.86 64.8L419.86 66.8L412.83 66.5zM420.86 65.8L427.89 84.8L425.89 84.8L418.86 65.8zM426.89 83.8L433.92 84.5L433.92 86.5L426.89 85.8zM434.92 85.5L441.95 99L439.95 99L432.92 85.5zM440.95 98L447.98 103L447.98 105L440.95 100zM448.98 104L456.02 121L454.02 121L446.98 104zM456.02 121L463.05 129.7L461.05 129.7L454.02 121zM462.05 128.7L469.08 134L469.08 136L462.05 130.7zM470.08 135L477.11 154L475.11 154L468.08 135zM477.11 154L484.14 174L482.14 174L475.11 154zM484.14 174L491.17 187L489.17 187L482.14 174zM490.17 186L497.2 192L497.2 194L490.17 188zM497.2 192L504.23 198L504.23 200L497.2 194zM505.23 199L512.26 278L510.26 278L503.23 199zM511.26 277L518.29 282L518.29 284L511.26 279zM519.29 283L526.32 296L524.32 296L517.29 283zM526.32 296L533.35 340L531.35 340L524.32 296zM533.35 340L540.38 357L538.38 357L531.35 340zM540.38 357L547.41 366L545.41 366L538.38 357zM547.41 366L554.44 379L552.44 379L545.41 366zM554.44 379L561.47 407L559.47 407L552.44 379zM561.47 407L568.5 431L566.5 431L559.47 407zM568.5 431L575.53 454L573.53 454L566.5 431zM574.53 453L581.56 457L581.56 459L574.53 455zM582.56 458L589.59 469.5L587.59 469.5L580.56 458zM589.59 469.5L596.62 480.5L594.62 480.5L587.59 469.5zM595.62 479.5L602.65 479.5L602.65 481.5L595.62 481.5zM602.65 479.5L609.68 482L609.68 484L602.65 481.5zM609.68 482L616.71 482L616.71 484L609.68 484zM617.71 483L624.74 507L622.74 507L615.71 483zM623.74 506L630.77 506.2L630.77 508.2L623.74 508zM630.77 506.2L637.8 506.8L637.8 508.8L630.77 508.2zM637.8 506.8L644.83 507.3L644.83 509.3L637.8 508.8zM644.83 507.3L651.86 507.8L651.86 509.8L644.83 509.3zM651.86 507.8L658.89 511.2L658.89 513.2L651.86 509.8zM658.89 511.2L665.92 511.3L665.92 513.3L658.89 513.2zM665.92 511.3L672.95 511.36L672.95 513.36L665.92 513.3zM672.95 511.36L679.98 511.42L679.98 513.42L672.95 513.36zM679.98 511.42L687.02 511.48L687.02 513.48L679.98 513.42zM687.02 511.48L694.05 511.54L694.05 513.54L687.02 513.48zM694.05 511.54L701.08 511.6L701.08 513.6L694.05 513.54zM701.08 511.6L708.11 516.8L708.11 518.8L701.08 513.6zM708.11 516.8L715.14 516.81L715.14 518.81L708.11 518.8zM715.14 516.81L722.17 516.82L722.17 518.82L715.14 518.81zM722.17 516.82L729.2 516.82L729.2 518.82L722.17 518.82zM729.2 516.82L736.23 516.83L736.23 518.83L729.2 518.82zM736.23 516.83L743.26 516.84L743.26 518.84L736.23 518.83zM743.26 516.84L750.29 516.85L750.29 518.85L743.26 518.84zM750.29 516.85L757.32 516.85L757.32 518.85L750.29 518.85zM757.32 516.85L764.35 516.86L764.35 518.86L757.32 518.85zM764.35 516.86L771.38 516.87L771.38 518.87L764.35 518.86zM771.38 516.87L778.41 516.88L778.41 518.88L771.38 518.87zM778.41 516.88L785.44 516.88L785.44 518.88L778.41 518.88zM785.44 516.88L792.47 516.89L792.47 518.89L785.44 518.88zM792.47 516.89L799.5 516.9L799.5 518.9L792.47 518.89z"/>
<path fill="#556b2f" d="M103.5 45.05L110.53 46.55L110.53 48.45L103.5 46.95zM110.53 46.55L117.56 50.55L117.56 52.45L110.53 48.45zM117.56 50.55L124.59 55.05L124.59 56.95L117.56 52.45zM124.59 55.05L131.62 59.65L131.62 61.55L124.59 56.95zM131.62 59.65L138.65 60.05L138.65 61.95L131.62 61.55zM139.6 61L146.63 71.6L144.73 71.6L137.7 61zM145.68 70.65L152.71 70.65L152.71 72.55L145.68 72.55zM153.66 71.6L160.69 92L158.79 92L151.76 71.6zM160.69 92L167.72 112L165.82 112L158.79 92zM167.72 112L174.75 131L172.85 131L165.82 112zM173.8 130.05L180.83 130.65L180.83 132.55L173.8 131.95zM180.83 130.65L187.86 134.05L187.86 135.95L180.83 132.55zM187.86 134.05L194.89 139.05L194.89 140.95L187.86 135.95zM194.89 139.05L201.92 143.55L201.92 145.45L194.89 140.95zM202.87 144.5L209.9 154L208 154L200.97 144.5zM208.95 153.05L215.98 160.05L215.98 161.95L208.95 154.95zM215.98 160.05L223.02 166.55L223.02 168.45L215.98 161.95zM223.02 166.55L230.05 173.55L230.05 175.45L223.02 168.45zM230.05 173.55L237.08 180.05L237.08 181.95L230.05 175.45zM237.08 180.05L244.11 180.55L244.11 182.45L237.08 181.95zM244.11 180.55L251.14 181.05L251.14 182.95L244.11 182.45zM252.09 182L259.12 244L257.22 244L250.19 182zM258.17 243.05L265.2 246.05L265.2 247.95L258.17 244.95zM265.2 246.05L272.23 246.35L272.23 248.25L265.2 247.95zM272.23 246.35L279.26 246.65L279.26 248.55L272.23 248.25zM279.26 246.65L286.29 250.05L286.29 251.95L279.26 248.55zM286.29 250.05L293.32 252.65L293.32 254.55L286.29 251.95zM293.32 252.65L300.35 255.05L300.35 256.95L293.32 254.55zM301.3 256L308.33 266.4L306.43 266.4L299.4 256zM307.38 265.45L314.41 267.05L314.41 268.95L307.38 267.35zM314.41 267.05L321.44 268.25L321.44 270.15L314.41 268.95zM321.44 268.25L328.47 269.45L328.47 271.35L321.44 270.15zM329.42 270.4L336.45 280L334.55 280L327.52 270.4zM336.45 280L343.48 290L341.58 290L334.55 280zM342.53 289.05L349.56 291.05L349.56 292.95L342.53 290.95zM350.51 292L357.54 303L355.64 303L348.61 292zM356.59 302.05L363.62 308.05L363.62 309.95L356.59 303.95zM363.62 308.05L370.65 314.05L370.65 315.95L363.62 309.95zM371.6 315L378.63 326L376.73 326L369.7 315zM377.68 325.05L384.71 328.65L384.71 330.55L377.68 326.95zM385.66 329.6L392.69 352L390.79 352L383.76 329.6zM391.74 351.05L398.77 358.05L398.77 359.95L391.74 352.95zM398.77 358.05L405.8 360.05L405.8 361.95L398.77 359.95zM405.8 360.05L412.83 365.05L412.83 366.95L405.8 361.95zM413.78 366L420.81 380L418.91 380L411.88 366zM419.86 379.05L426.89 381.05L426.89 382.95L419.86 380.95zM426.89 381.05L433.92 384.05L433.92 385.95L426.89 382.95zM433.92 384.05L440.95 385.55L440.95 387.45L433.92 385.95zM440.95 385.55L447.98 387.05L447.98 388.95L440.95 387.45zM447.98 387.05L455.02 388.55L455.02 390.45L447.98 388.95zM455.02 388.55L462.05 392.05L462.05 393.95L455.02 390.45zM462.05 392.05L469.08 393.55L469.08 395.45L462.05 393.95zM470.03 394.5L477.06 408.5L475.16 408.5L468.13 394.5zM476.11 407.55L483.14 410.55L483.14 412.45L476.11 409.45zM484.09 411.5L491.12 430.5L489.22 430.5L482.19 411.5zM490.17 429.55L497.2 435.05L497.2 436.95L490.17 431.45zM497.2 435.05L504.23 435.72L504.23 437.62L497.2 436.95zM504.23 435.72L511.26 436.38L511.26 438.28L504.23 437.62zM511.26 436.38L518.29 437.05L518.29 438.95L511.26 438.28zM518.29 437.05L525.32 439.05L525.32 440.95L518.29 438.95zM525.32 439.05L532.35 446.05L532.35 447.95L525.32 440.95zM532.35 446.05L539.38 450.05L539.38 451.95L532.35 447.95zM539.38 450.05L546.41 454.05L546.41 455.95L539.38 451.95zM547.36 455L554.39 464L552.49 464L545.46 455zM553.44 463.05L560.47 468.05L560.47 469.95L553.44 464.95zM560.47 468.05L567.5 474.05L567.5 475.95L560.47 469.95zM567.5 474.05L574.53 475.05L574.53 476.95L567.5 475.95zM574.53 475.05L581.56 477.05L581.56 478.95L574.53 476.95zM581.56 477.05L588.59 482.05L588.59 483.95L581.56 478.95zM588.59 482.05L595.62 485.05L595.62 486.95L588.59 483.95zM595.62 485.05L602.65 488.05L602.65 489.95L595.62 486.95zM602.65 488.05L609.68 494.05L609.68 495.95L602.65 489.95zM609.68 494.05L616.71 496.85L616.71 498.75L609.68 495.95zM616.71 496.85L623.74 498.05L623.74 499.95L616.71 498.75zM623.74 498.05L630.77 498.05L630.77 499.95L623.74 499.95zM630.77 498.05L637.8 498.05L637.8 499.95L630.77 499.95zM638.75 499L645.78 509.9L643.88 509.9L636.85 499zM644.83 508.95L651.86 508.97L651.86 510.87L644.83 510.85zM651.86 508.97L658.89 508.99L658.89 510.89L651.86 510.87zM658.89 508.99L665.92 509L665.92 510.9L658.89 510.89zM665.92 509L672.95 509.02L672.95 510.92L665.92 510.9zM672.95 509.02L679.98 509.04L679.98 510.94L672.95 510.92zM679.98 509.04L687.02 509.06L687.02 510.96L679.98 510.94zM687.02 509.06L694.05 509.08L694.05 510.98L687.02 510.96zM694.05 509.08L701.08 509.1L701.08 511L694.05 510.98zM701.08 509.1L708.11 509.11L708.11 511.01L701.08 511zM708.11 509.11L715.14 509.13L715.14 511.03L708.11 511.01zM715.14 509.13L722.17 509.15L722.17 511.05L715.14 511.03zM722.17 509.15L729.2 509.17L729.2 511.07L722.17 511.05zM729.2 509.17L736.23 509.19L736.23 511.09L729.2 511.07zM736.23 509.19L743.26 509.2L743.26 511.1L736.23 511.09zM743.26 509.2L750.29 509.22L750.29 511.12L743.26 511.1zM750.29 509.22L757.32 509.24L757.32 511.14L750.29 511.12zM757.32 509.24L764.35 509.26L764.35 511.16L757.32 511.14zM764.35 509.26L771.38 509.28L771.38 511.18L764.35 511.16zM771.38 509.28L778.41 509.3L778.41 511.2L771.38 511.18zM778.41 509.3L785.44 509.31L785.44 511.21L778.41 511.2zM785.44 509.31L792.47 509.33L792.47 511.23L785.44 511.21zM792.47 509.33L799.5 509.35L799.5 511.25L792.47 511.23z"/>
<path fill="#556b2f" d="M103.5 217.05L110.53 219.05L110.53 220.95L103.5 218.95zM110.53 219.05L117.56 219.05L117.56 220.95L110.53 220.95zM117.56 219.05L124.59 223.65L124.59 225.55L117.56 220.95zM124.59 223.65L131.62 224.65L131.62 226.55L124.59 225.55zM131.62 224.65L138.65 224.85L138.65 226.75L131.62 226.55zM138.65 224.85L145.68 225.05L145.68 226.95L138.65 226.75zM145.68 225.05L152.71 225.25L152.71 227.15L145.68 226.95zM152.71 225.25L159.74 225.45L159.74 227.35L152.71 227.15zM160.69 226.4L167.72 244L165.82 244L158.79 226.4zM166.77 243.05L173.8 245.05L173.8 246.95L166.77 244.95zM173.8 245.05L180.83 245.85L180.83 247.75L173.8 246.95zM180.83 245.85L187.86 248.55L187.86 250.45L180.83 247.75zM187.86 248.55L194.89 251.05L194.89 252.95L187.86 250.45zM194.89 251.05L201.92 256.05L201.92 257.95L194.89 252.95zM201.92 256.05L208.95 261.45L208.95 263.35L201.92 257.95zM208.95 261.45L215.98 262.05L215.98 263.95L208.95 263.35zM216.93 263L223.97 271L222.07 271L215.03 263zM223.02 270.05L230.05 274.05L230.05 275.95L223.02 271.95zM230.05 274.05L237.08 280.05L237.08 281.95L230.05 275.95zM237.08 280.05L244.11 280.25L244.11 282.15L237.08 281.95zM244.11 280.25L251.14 282.18L251.14 284.08L244.11 282.15zM251.14 282.18L258.17 284.12L258.17 286.02L251.14 284.08zM258.17 284.12L265.2 286.05L265.2 287.95L258.17 286.02zM265.2 286.05L272.23 286.55L272.23 288.45L265.2 287.95zM272.23 286.55L279.26 287.05L279.26 288.95L272.23 288.45zM279.26 287.05L286.29 291.05L286.29 292.95L279.26 288.95zM286.29 291.05L293.32 293.38L293.32 295.28L286.29 292.95zM293.32 293.38L300.35 295.72L300.35 297.62L293.32 295.28zM300.35 295.72L307.38 298.05L307.38 299.95L300.35 297.62zM307.38 298.05L314.41 298.92L314.41 300.82L307.38 299.95zM314.41 298.92L321.44 299.78L321.44 301.68L314.41 300.82zM321.44 299.78L328.47 300.65L328.47 302.55L321.44 301.68zM329.42 301.6L336.45 309L334.55 309L327.52 301.6zM336.45 309L343.48 320.5L341.58 320.5L334.55 309zM342.53 319.55L349.56 322.05L349.56 323.95L342.53 321.45zM350.51 323L357.54 334L355.64 334L348.61 323zM356.59 333.05L363.62 339.05L363.62 340.95L356.59 334.95zM363.62 339.05L370.65 345.05L370.65 346.95L363.62 340.95zM371.6 346L378.63 357L376.73 357L369.7 346zM377.68 356.05L384.71 360.05L384.71 361.95L377.68 357.95zM384.71 360.05L391.74 361.05L391.74 362.95L384.71 361.95zM391.74 361.05L398.77 362.05L398.77 363.95L391.74 362.95zM398.77 362.05L405.8 364.05L405.8 365.95L398.77 363.95zM405.8 364.05L412.83 369.05L412.83 370.95L405.8 365.95zM413.78 370L420.81 384.4L418.91 384.4L411.88 370zM419.86 383.45L426.89 385.05L426.89 386.95L419.86 385.35zM426.89 385.05L433.92 388.05L433.92 389.95L426.89 386.95zM433.92 388.05L440.95 389.38L440.95 391.28L433.92 389.95zM440.95 389.38L447.98 390.72L447.98 392.62L440.95 391.28zM447.98 390.72L455.02 392.05L455.02 393.95L447.98 392.62zM455.02 392.05L462.05 395.05L462.05 396.95L455.02 393.95zM462.05 395.05L469.08 397.05L469.08 398.95L462.05 396.95zM470.03 398L477.06 412.7L475.16 412.7L468.13 398zM476.11 411.75L483.14 414.05L483.14 415.95L476.11 413.65zM484.09 415L491.12 434.2L489.22 434.2L482.19 415zM490.17 433.25L497.2 438.55L497.2 440.45L490.17 435.15zM497.2 438.55L504.23 439.38L504.23 441.28L497.2 440.45zM504.23 439.38L511.26 440.22L511.26 442.12L504.23 441.28zM511.26 440.22L518.29 441.05L518.29 442.95L511.26 442.12zM518.29 441.05L525.32 442.05L525.32 443.95L518.29 442.95zM525.32 442.05L532.35 449.05L532.35 450.95L525.32 443.95zM532.35 449.05L539.38 453.05L539.38 454.95L532.35 450.95zM539.38 453.05L546.41 457.05L546.41 458.95L539.38 454.95zM547.36 458L554.39 467L552.49 467L545.46 458zM553.44 466.05L560.47 471.05L560.47 472.95L553.44 467.95zM561.42 472L568.45 479.3L566.55 479.3L559.52 472zM567.5 478.35L574.53 479.05L574.53 480.95L567.5 480.25zM574.53 479.05L581.56 480.55L581.56 482.45L574.53 480.95zM581.56 480.55L588.59 485.55L588.59 487.45L581.56 482.45zM588.59 485.55L595.62 488.55L595.62 490.45L588.59 487.45zM595.62 488.55L602.65 491.05L602.65 492.95L595.62 490.45zM602.65 491.05L609.68 497.55L609.68 499.45L602.65 492.95zM609.68 497.55L616.71 500.55L616.71 502.45L609.68 499.45zM616.71 500.55L623.74 501.55L623.74 503.45L616.71 502.45zM623.74 501.55L630.77 501.65L630.77 503.55L623.74 503.45zM630.77 501.65L637.8 501.75L637.8 503.65L630.77 503.55zM638.75 502.7L645.78 514L643.88 514L636.85 502.7zM644.83 513.05L651.86 513.05L651.86 514.95L644.83 514.95zM651.86 513.05L658.89 513.05L658.89 514.95L651.86 514.95zM658.89 513.05L665.92 513.05L665.92 514.95L658.89 514.95zM665.92 513.05L672.95 513.05L672.95 514.95L665.92 514.95zM672.95 513.05L679.98 513.05L679.98 514.95L672.95 514.95zM679.98 513.05L687.02 513.05L687.02 514.95L679.98 514.95zM687.02 513.05L694.05 513.05L694.05 514.95L687.02 514.95zM694.05 513.05L701.08 513.05L701.08 514.95L694.05 514.95zM701.08 513.05L708.11 513.05L708.11 514.95L701.08 514.95zM708.11 513.05L715.14 513.05L715.14 514.95L708.11 514.95zM715.14 513.05L722.17 513.05L722.17 514.95L715.14 514.95zM722.17 513.05L729.2 513.05L729.2 514.95L722.17 514.95zM729.2 513.05L736.23 513.05L736.23 514.95L729.2 514.95zM736.23 513.05L743.26 513.05L743.26 514.95L736.23 514.95zM743.26 513.05L750.29 513.05L750.29 514.95L743.26 514.95zM750.29 513.05L757.32 513.05L757.32 514.95L750.29 514.95zM757.32 513.05L764.35 513.05L764.35 514.95L757.32 514.95zM764.35 513.05L771.38 513.05L771.38 514.95L764.35 514.95zM771.38 513.05L778.41 513.05L778.41 514.95L771.38 514.95zM778.41 513.05L785.44 513.05L785.44 514.95L778.41 514.95zM785.44 513.05L792.47 513.05L792.47 514.95L785.44 514.95zM792.47 513.05L799.5 513.05L799.5 514.95L792.47 514.95z"/>
<polyline fill="none" stroke="#a52a2a" stroke-width="2.45" stroke-linejoin="round" points="103.5,49.02 106.98,49.95 110.46,50.83 113.94,51.69 117.42,52.52 120.9,53.33 124.38,54.13 127.86,54.9 131.34,55.67 134.82,56.43 138.3,57.19 141.78,57.95 145.26,58.71 148.74,59.48 152.22,60.26 155.7,61.05 159.18,61.85 162.66,62.67 166.14,63.51 169.62,64.37 173.1,65.26 176.58,66.17 180.06,67.1 183.54,68.07 187.02,69.06 190.5,70.09 193.98,71.14 197.46,72.23 200.94,73.36 204.42,74.52 207.9,75.71 211.38,76.94 214.86,78.2 218.34,79.5 221.82,80.83 225.3,82.2 228.78,83.61 232.26,85.05 235.74,86.52 239.22,88.02 242.7,89.56 246.18,91.13 249.66,92.72 253.14,94.35 256.62,96 260.1,97.69 263.58,99.4 267.06,101.13 270.54,102.89 274.02,104.68 277.5,106.5 280.98,108.34 284.46,110.21 287.94,112.11 291.42,114.03 294.9,115.98 298.38,117.96 301.86,119.98 305.34,122.02 308.82,124.09 312.3,126.2 315.78,128.35 319.26,130.53 322.74,132.74 326.22,135 329.7,137.3 333.18,139.64 336.66,142.03 340.14,144.46 343.62,146.94 347.1,149.48 350.58,152.07 354.06,154.72 357.54,157.42 361.02,160.18 364.5,163.01 367.98,165.89 371.46,168.83 374.94,171.84 378.42,174.9 381.9,178.02 385.38,181.2 388.86,184.44 392.34,187.73 395.82,191.07 399.3,194.46 402.78,197.9 406.26,201.38 409.74,204.9 413.22,208.46 416.7,212.05 420.18,215.68 423.66,219.34 427.14,223.04 430.62,226.76 434.1,230.52 437.58,234.31 441.06,238.12 444.54,241.98 448.02,245.86 451.5,249.78 454.98,253.74 458.46,257.73 461.94,261.77 465.42,265.85 468.9,269.96 472.38,274.13 475.86,278.33 479.34,282.57 482.82,286.86 486.3,291.18 489.78,295.54 493.26,299.94 496.74,304.37 500.22,308.83 503.7,313.32 507.18,317.83 510.66,322.37 514.14,326.92 517.62,331.48 521.1,336.04 524.58,340.61 528.06,345.18 531.54,349.73 535.02,354.27 538.5,358.79 541.98,363.28 545.46,367.74 548.94,372.15 552.42,376.52 555.9,380.85 559.38,385.12 562.86,389.33 566.34,393.49 569.82,397.6 573.3,401.65 576.78,405.64 580.26,409.58 583.74,413.46 587.22,417.3 590.7,421.09 594.18,424.83 597.66,428.52 601.14,432.17 604.62,435.75 608.1,439.29 611.58,442.77 615.06,446.18 618.54,449.52 622.02,452.79 625.5,455.98 628.98,459.09 632.46,462.1 635.94,465.02 639.42,467.84 642.9,470.56 646.38,473.18 649.86,475.7 653.34,478.13 656.82,480.45 660.3,482.68 663.78,484.82 667.26,486.87 670.74,488.83 674.22,490.71 677.7,492.5 681.18,494.22 684.66,495.85 688.14,497.42 691.62,498.91 695.1,500.33 698.58,501.68 702.06,502.97 705.54,504.19 709.02,505.36 712.5,506.47 715.98,507.52 719.46,508.52 722.94,509.47 726.42,510.37 729.9,511.23 733.38,512.04 736.86,512.81 740.34,513.54 743.82,514.23 747.3,514.89 750.78,515.51 754.26,516.11 757.74,516.67 761.22,517.21 764.7,517.72 768.18,518.22 771.66,518.69 775.14,519.14 778.62,519.58 782.1,520 785.58,520.41 789.06,520.81 792.54,521.2 796.02,521.58 799.5,521.96"/>
<rect x="335.25" y="33" width="0.7" height="493" fill="#000"/>
</g>
<g stroke="none">
<path fill="#0000ff" d="M511.24 56.9L509.49 55.14L510.16 55.14L511.91 56.9zM509.82 55.48L507.2 54.6L507.2 53.92L509.82 54.8zM507.2 54.6L503.7 54.6L503.7 53.92L507.2 53.92zM503.7 54.6L501.07 55.48L501.07 54.8L503.7 53.92zM501.41 55.14L499.66 56.9L498.99 56.9L500.74 55.14zM499.66 56.9L499.66 58.65L498.99 58.65L498.99 56.9zM499.66 58.65L500.54 60.41L499.86 60.41L498.99 58.65zM500.54 60.41L501.41 61.29L500.74 61.29L499.86 60.41zM501.07 60.95L502.82 61.82L502.82 62.5L501.07 61.63zM502.82 61.82L508.07 63.58L508.07 64.26L502.82 62.5zM508.07 63.58L509.82 64.46L509.82 65.14L508.07 64.26zM510.16 64.8L511.04 65.68L510.36 65.68L509.49 64.8zM511.04 65.68L511.91 67.43L511.24 67.43L510.36 65.68zM511.91 67.43L511.91 70.07L511.24 70.07L511.24 67.43zM511.91 70.07L510.16 71.82L509.49 71.82L511.24 70.07zM509.82 72.16L507.2 73.04L507.2 72.36L509.82 71.48zM507.2 73.04L503.7 73.04L503.7 72.36L507.2 72.36zM503.7 73.04L501.07 72.16L501.07 71.48L503.7 72.36zM500.74 71.82L498.99 70.07L499.66 70.07L501.41 71.82zM518.04 54.26L518.04 72.7L517.36 72.7L517.36 54.26zM517.7 53.92L529.08 53.92L529.08 54.6L517.7 54.6zM517.7 62.7L524.7 62.7L524.7 63.38L517.7 63.38zM533.79 54.26L533.79 72.7L533.11 72.7L533.11 54.26zM533.45 53.92L541.33 53.92L541.33 54.6L533.45 54.6zM541.33 53.92L543.95 54.8L543.95 55.48L541.33 54.6zM544.29 55.14L545.17 56.02L544.49 56.02L543.61 55.14zM545.17 56.02L546.04 57.77L545.36 57.77L544.49 56.02zM546.04 57.77L546.04 59.53L545.36 59.53L545.36 57.77zM546.04 59.53L545.17 61.29L544.49 61.29L545.36 59.53zM545.17 61.29L544.29 62.16L543.61 62.16L544.49 61.29zM543.95 62.5L541.33 63.38L541.33 62.7L543.95 61.82zM541.33 63.38L533.45 63.38L533.45 62.7L541.33 62.7zM539.92 63.04L546.04 72.7L545.36 72.7L539.24 63.04zM572.29 50.75L570.54 52.51L569.86 52.51L571.61 50.75zM570.54 52.51L568.79 55.14L568.11 55.14L569.86 52.51zM568.79 55.14L567.04 58.65L566.36 58.65L568.11 55.14zM567.04 58.65L566.17 63.04L565.49 63.04L566.36 58.65zM566.17 63.04L566.17 66.55L565.49 66.55L565.49 63.04zM566.17 66.55L567.04 70.94L566.36 70.94L565.49 66.55zM567.04 70.94L568.79 74.46L568.11 74.46L566.36 70.94zM568.79 74.46L570.54 77.09L569.86 77.09L568.11 74.46zM570.54 77.09L572.29 78.85L571.61 78.85L569.86 77.09zM589.99 58.65L589.11 56.9L589.79 56.9L590.67 58.65zM589.11 56.9L587.36 55.14L588.04 55.14L589.79 56.9zM587.7 55.48L585.95 54.6L585.95 53.92L587.7 54.8zM585.95 54.6L582.45 54.6L582.45 53.92L585.95 53.92zM582.45 54.6L580.7 55.48L580.7 54.8L582.45 53.92zM581.04 55.14L579.29 56.9L578.61 56.9L580.36 55.14zM579.29 56.9L578.42 58.65L577.74 58.65L578.61 56.9zM578.42 58.65L577.54 61.29L576.86 61.29L577.74 58.65zM577.54 61.29L577.54 65.68L576.86 65.68L576.86 61.29zM577.54 65.68L578.42 68.31L577.74 68.31L576.86 65.68zM578.42 68.31L579.29 70.07L578.61 70.07L577.74 68.31zM579.29 70.07L581.04 71.82L580.36 71.82L578.61 70.07zM580.7 71.48L582.45 72.36L582.45 73.04L580.7 72.16zM582.45 72.36L585.95 72.36L585.95 73.04L582.45 73.04zM585.95 72.36L587.7 71.48L587.7 72.16L585.95 73.04zM587.36 71.82L589.11 70.07L589.79 70.07L588.04 71.82zM589.11 70.07L589.99 68.31L590.67 68.31L589.79 70.07zM589.99 68.31L589.99 65.68L590.67 65.68L590.67 68.31zM585.95 65.34L590.33 65.34L590.33 66.02L585.95 66.02zM601.17 54.26L594.17 72.7L593.49 72.7L600.49 54.26zM601.17 54.26L608.17 72.7L607.49 72.7L600.49 54.26zM596.45 66.21L605.2 66.21L605.2 66.89L596.45 66.89zM623.24 56.9L621.49 55.14L622.17 55.14L623.92 56.9zM621.83 55.48L619.2 54.6L619.2 53.92L621.83 54.8zM619.2 54.6L615.7 54.6L615.7 53.92L619.2 53.92zM615.7 54.6L613.08 55.48L613.08 54.8L615.7 53.92zM613.42 55.14L611.67 56.9L610.99 56.9L612.74 55.14zM611.67 56.9L611.67 58.65L610.99 58.65L610.99 56.9zM611.67 58.65L612.54 60.41L611.86 60.41L610.99 58.65zM612.54 60.41L613.42 61.29L612.74 61.29L611.86 60.41zM613.08 60.95L614.83 61.82L614.83 62.5L613.08 61.63zM614.83 61.82L620.08 63.58L620.08 64.26L614.83 62.5zM620.08 63.58L621.83 64.46L621.83 65.14L620.08 64.26zM622.17 64.8L623.04 65.68L622.36 65.68L621.49 64.8zM623.04 65.68L623.92 67.43L623.24 67.43L622.36 65.68zM623.92 67.43L623.92 70.07L623.24 70.07L623.24 67.43zM623.92 70.07L622.17 71.82L621.49 71.82L623.24 70.07zM621.83 72.16L619.2 73.04L619.2 72.36L621.83 71.48zM619.2 73.04L615.7 73.04L615.7 72.36L619.2 72.36zM615.7 73.04L613.08 72.16L613.08 71.48L615.7 72.36zM612.74 71.82L610.99 70.07L611.67 70.07L613.42 71.82zM640.74 56.9L638.99 55.14L639.67 55.14L641.42 56.9zM639.33 55.48L636.7 54.6L636.7 53.92L639.33 54.8zM636.7 54.6L633.2 54.6L633.2 53.92L636.7 53.92zM633.2 54.6L630.58 55.48L630.58 54.8L633.2 53.92zM630.92 55.14L629.17 56.9L628.49 56.9L630.24 55.14zM629.17 56.9L629.17 58.65L628.49 58.65L628.49 56.9zM629.17 58.65L630.04 60.41L629.36 60.41L628.49 58.65zM630.04 60.41L630.92 61.29L630.24 61.29L629.36 60.41zM630.58 60.95L632.33 61.82L632.33 62.5L630.58 61.63zM632.33 61.82L637.58 63.58L637.58 64.26L632.33 62.5zM637.58 63.58L639.33 64.46L639.33 65.14L637.58 64.26zM639.67 64.8L640.54 65.68L639.86 65.68L638.99 64.8zM640.54 65.68L641.42 67.43L640.74 67.43L639.86 65.68zM641.42 67.43L641.42 70.07L640.74 70.07L640.74 67.43zM641.42 70.07L639.67 71.82L638.99 71.82L640.74 70.07zM639.33 72.16L636.7 73.04L636.7 72.36L639.33 71.48zM636.7 73.04L633.2 73.04L633.2 72.36L636.7 72.36zM633.2 73.04L630.58 72.16L630.58 71.48L633.2 72.36zM630.24 71.82L628.49 70.07L629.17 70.07L630.92 71.82zM646.67 50.75L648.42 52.51L647.74 52.51L645.99 50.75zM648.42 52.51L650.17 55.14L649.49 55.14L647.74 52.51zM650.17 55.14L651.92 58.65L651.24 58.65L649.49 55.14zM651.92 58.65L652.79 63.04L652.11 63.04L651.24 58.65zM652.79 63.04L652.79 66.55L652.11 66.55L652.11 63.04zM652.79 66.55L651.92 70.94L651.24 70.94L652.11 66.55zM651.92 70.94L650.17 74.46L649.49 74.46L651.24 70.94zM650.17 74.46L648.42 77.09L647.74 77.09L649.49 74.46zM648.42 77.09L646.67 78.85L645.99 78.85L647.74 77.09z"/>
<path fill="#ff0000" d="M500.54 93.56L500.54 112L499.86 112L499.86 93.56zM500.54 93.56L507.54 112L506.86 112L499.86 93.56zM514.54 93.56L507.54 112L506.86 112L513.86 93.56zM514.54 93.56L514.54 112L513.86 112L513.86 93.56zM531.17 99.71L531.17 112L530.49 112L530.49 99.71zM530.49 102.34L528.74 100.59L529.42 100.59L531.17 102.34zM529.08 100.93L527.33 100.05L527.33 99.37L529.08 100.25zM527.33 100.05L524.7 100.05L524.7 99.37L527.33 99.37zM524.7 100.05L522.95 100.93L522.95 100.25L524.7 99.37zM523.29 100.59L521.54 102.34L520.86 102.34L522.61 100.59zM521.54 102.34L520.67 104.98L519.99 104.98L520.86 102.34zM520.67 104.98L520.67 106.73L519.99 106.73L519.99 104.98zM520.67 106.73L521.54 109.37L520.86 109.37L519.99 106.73zM521.54 109.37L523.29 111.12L522.61 111.12L520.86 109.37zM522.95 110.78L524.7 111.66L524.7 112.34L522.95 111.46zM524.7 111.66L527.33 111.66L527.33 112.34L524.7 112.34zM527.33 111.66L529.08 110.78L529.08 111.46L527.33 112.34zM528.74 111.12L530.49 109.37L531.17 109.37L529.42 111.12zM546.24 102.34L545.36 100.59L546.04 100.59L546.92 102.34zM545.7 100.93L543.08 100.05L543.08 99.37L545.7 100.25zM543.08 100.05L540.45 100.05L540.45 99.37L543.08 99.37zM540.45 100.05L537.83 100.93L537.83 100.25L540.45 99.37zM538.17 100.59L537.29 102.34L536.61 102.34L537.49 100.59zM537.29 102.34L538.17 104.1L537.49 104.1L536.61 102.34zM537.83 103.76L539.58 104.64L539.58 105.32L537.83 104.44zM539.58 104.64L543.95 105.51L543.95 106.19L539.58 105.32zM543.95 105.51L545.7 106.39L545.7 107.07L543.95 106.19zM546.04 106.73L546.92 108.49L546.24 108.49L545.36 106.73zM546.92 108.49L546.92 109.37L546.24 109.37L546.24 108.49zM546.92 109.37L546.04 111.12L545.36 111.12L546.24 109.37zM545.7 111.46L543.08 112.34L543.08 111.66L545.7 110.78zM543.08 112.34L540.45 112.34L540.45 111.66L543.08 111.66zM540.45 112.34L537.83 111.46L537.83 110.78L540.45 111.66zM537.49 111.12L536.61 109.37L537.29 109.37L538.17 111.12zM561.11 102.34L560.24 100.59L560.92 100.59L561.79 102.34zM560.58 100.93L557.95 100.05L557.95 99.37L560.58 100.25zM557.95 100.05L555.33 100.05L555.33 99.37L557.95 99.37zM555.33 100.05L552.7 100.93L552.7 100.25L555.33 99.37zM553.04 100.59L552.17 102.34L551.49 102.34L552.36 100.59zM552.17 102.34L553.04 104.1L552.36 104.1L551.49 102.34zM552.7 103.76L554.45 104.64L554.45 105.32L552.7 104.44zM554.45 104.64L558.83 105.51L558.83 106.19L554.45 105.32zM558.83 105.51L560.58 106.39L560.58 107.07L558.83 106.19zM560.92 106.73L561.79 108.49L561.11 108.49L560.24 106.73zM561.79 108.49L561.79 109.37L561.11 109.37L561.11 108.49zM561.79 109.37L560.92 111.12L560.24 111.12L561.11 109.37zM560.58 111.46L557.95 112.34L557.95 111.66L560.58 110.78zM557.95 112.34L555.33 112.34L555.33 111.66L557.95 111.66zM555.33 112.34L552.7 111.46L552.7 110.78L555.33 111.66zM552.36 111.12L551.49 109.37L552.17 109.37L553.04 111.12zM588.04 90.05L586.29 91.81L585.61 91.81L587.36 90.05zM586.29 91.81L584.54 94.44L583.86 94.44L585.61 91.81zM584.54 94.44L582.79 97.95L582.11 97.95L583.86 94.44zM582.79 97.95L581.92 102.34L581.24 102.34L582.11 97.95zM581.92 102.34L581.92 105.85L581.24 105.85L581.24 102.34zM581.92 105.85L582.79 110.24L582.11 110.24L581.24 105.85zM582.79 110.24L584.54 113.76L583.86 113.76L582.11 110.24zM584.54 113.76L586.29 116.39L585.61 116.39L583.86 113.76zM586.29 116.39L588.04 118.15L587.36 118.15L585.61 116.39zM605.74 97.95L604.86 96.2L605.54 96.2L606.42 97.95zM604.86 96.2L603.11 94.44L603.79 94.44L605.54 96.2zM603.45 94.78L601.7 93.9L601.7 93.22L603.45 94.1zM601.7 93.9L598.2 93.9L598.2 93.22L601.7 93.22zM598.2 93.9L596.45 94.78L596.45 94.1L598.2 93.22zM596.79 94.44L595.04 96.2L594.36 96.2L596.11 94.44zM595.04 96.2L594.17 97.95L593.49 97.95L594.36 96.2zM594.17 97.95L593.29 100.59L592.61 100.59L593.49 97.95zM593.29 100.59L593.29 104.98L592.61 104.98L592.61 100.59zM593.29 104.98L594.17 107.61L593.49 107.61L592.61 104.98zM594.17 107.61L595.04 109.37L594.36 109.37L593.49 107.61zM595.04 109.37L596.79 111.12L596.11 111.12L594.36 109.37zM596.45 110.78L598.2 111.66L598.2 112.34L596.45 111.46zM598.2 111.66L601.7 111.66L601.7 112.34L598.2 112.34zM601.7 111.66L603.45 110.78L603.45 111.46L601.7 112.34zM603.11 111.12L604.86 109.37L605.54 109.37L603.79 111.12zM604.86 109.37L605.74 107.61L606.42 107.61L605.54 109.37zM605.74 107.61L605.74 104.98L606.42 104.98L606.42 107.61zM601.7 104.64L606.08 104.64L606.08 105.32L601.7 105.32zM616.92 93.56L609.92 112L609.24 112L616.24 93.56zM616.92 93.56L623.92 112L623.24 112L616.24 93.56zM612.2 105.51L620.95 105.51L620.95 106.19L612.2 106.19zM638.99 96.2L637.24 94.44L637.92 94.44L639.67 96.2zM637.58 94.78L634.95 93.9L634.95 93.22L637.58 94.1zM634.95 93.9L631.45 93.9L631.45 93.22L634.95 93.22zM631.45 93.9L628.83 94.78L628.83 94.1L631.45 93.22zM629.17 94.44L627.42 96.2L626.74 96.2L628.49 94.44zM627.42 96.2L627.42 97.95L626.74 97.95L626.74 96.2zM627.42 97.95L628.29 99.71L627.61 99.71L626.74 97.95zM628.29 99.71L629.17 100.59L628.49 100.59L627.61 99.71zM628.83 100.25L630.58 101.12L630.58 101.8L628.83 100.93zM630.58 101.12L635.83 102.88L635.83 103.56L630.58 101.8zM635.83 102.88L637.58 103.76L637.58 104.44L635.83 103.56zM637.92 104.1L638.79 104.98L638.11 104.98L637.24 104.1zM638.79 104.98L639.67 106.73L638.99 106.73L638.11 104.98zM639.67 106.73L639.67 109.37L638.99 109.37L638.99 106.73zM639.67 109.37L637.92 111.12L637.24 111.12L638.99 109.37zM637.58 111.46L634.95 112.34L634.95 111.66L637.58 110.78zM634.95 112.34L631.45 112.34L631.45 111.66L634.95 111.66zM631.45 112.34L628.83 111.46L628.83 110.78L631.45 111.66zM628.49 111.12L626.74 109.37L627.42 109.37L629.17 111.12zM656.49 96.2L654.74 94.44L655.42 94.44L657.17 96.2zM655.08 94.78L652.45 93.9L652.45 93.22L655.08 94.1zM652.45 93.9L648.95 93.9L648.95 93.22L652.45 93.22zM648.95 93.9L646.33 94.78L646.33 94.1L648.95 93.22zM646.67 94.44L644.92 96.2L644.24 96.2L645.99 94.44zM644.92 96.2L644.92 97.95L644.24 97.95L644.24 96.2zM644.92 97.95L645.79 99.71L645.11 99.71L644.24 97.95zM645.79 99.71L646.67 100.59L645.99 100.59L645.11 99.71zM646.33 100.25L648.08 101.12L648.08 101.8L646.33 100.93zM648.08 101.12L653.33 102.88L653.33 103.56L648.08 101.8zM653.33 102.88L655.08 103.76L655.08 104.44L653.33 103.56zM655.42 104.1L656.29 104.98L655.61 104.98L654.74 104.1zM656.29 104.98L657.17 106.73L656.49 106.73L655.61 104.98zM657.17 106.73L657.17 109.37L656.49 109.37L656.49 106.73zM657.17 109.37L655.42 111.12L654.74 111.12L656.49 109.37zM655.08 111.46L652.45 112.34L652.45 111.66L655.08 110.78zM652.45 112.34L648.95 112.34L648.95 111.66L652.45 111.66zM648.95 112.34L646.33 111.46L646.33 110.78L648.95 111.66zM645.99 111.12L644.24 109.37L644.92 109.37L646.67 111.12zM662.42 90.05L664.17 91.81L663.49 91.81L661.74 90.05zM664.17 91.81L665.92 94.44L665.24 94.44L663.49 91.81zM665.92 94.44L667.67 97.95L666.99 97.95L665.24 94.44zM667.67 97.95L668.54 102.34L667.86 102.34L666.99 97.95zM668.54 102.34L668.54 105.85L667.86 105.85L667.86 102.34zM668.54 105.85L667.67 110.24L666.99 110.24L667.86 105.85zM667.67 110.24L665.92 113.76L665.24 113.76L666.99 110.24zM665.92 113.76L664.17 116.39L663.49 116.39L665.24 113.76zM664.17 116.39L662.42 118.15L661.74 118.15L663.49 116.39z"/>
<path fill="#556b2f" d="M500.54 132.96L500.54 151.4L499.86 151.4L499.86 132.96zM500.54 132.96L507.54 151.4L506.86 151.4L499.86 132.96zM514.54 132.96L507.54 151.4L506.86 151.4L513.86 132.96zM514.54 132.96L514.54 151.4L513.86 151.4L513.86 132.96zM531.17 139.11L531.17 151.4L530.49 151.4L530.49 139.11zM530.49 141.74L528.74 139.99L529.42 139.99L531.17 141.74zM529.08 140.33L527.33 139.45L527.33 138.77L529.08 139.65zM527.33 139.45L524.7 139.45L524.7 138.77L527.33 138.77zM524.7 139.45L522.95 140.33L522.95 139.65L524.7 138.77zM523.29 139.99L521.54 141.74L520.86 141.74L522.61 139.99zM521.54 141.74L520.67 144.38L519.99 144.38L520.86 141.74zM520.67 144.38L520.67 146.13L519.99 146.13L519.99 144.38zM520.67 146.13L521.54 148.77L520.86 148.77L519.99 146.13zM521.54 148.77L523.29 150.52L522.61 150.52L520.86 148.77zM522.95 150.18L524.7 151.06L524.7 151.74L522.95 150.86zM524.7 151.06L527.33 151.06L527.33 151.74L524.7 151.74zM527.33 151.06L529.08 150.18L529.08 150.86L527.33 151.74zM528.74 150.52L530.49 148.77L531.17 148.77L529.42 150.52zM546.24 141.74L545.36 139.99L546.04 139.99L546.92 141.74zM545.7 140.33L543.08 139.45L543.08 138.77L545.7 139.65zM543.08 139.45L540.45 139.45L540.45 138.77L543.08 138.77zM540.45 139.45L537.83 140.33L537.83 139.65L540.45 138.77zM538.17 139.99L537.29 141.74L536.61 141.74L537.49 139.99zM537.29 141.74L538.17 143.5L537.49 143.5L536.61 141.74zM537.83 143.16L539.58 144.04L539.58 144.72L537.83 143.84zM539.58 144.04L543.95 144.91L543.95 145.59L539.58 144.72zM543.95 144.91L545.7 145.79L545.7 146.47L543.95 145.59zM546.04 146.13L546.92 147.89L546.24 147.89L545.36 146.13zM546.92 147.89L546.92 148.77L546.24 148.77L546.24 147.89zM546.92 148.77L546.04 150.52L545.36 150.52L546.24 148.77zM545.7 150.86L543.08 151.74L543.08 151.06L545.7 150.18zM543.08 151.74L540.45 151.74L540.45 151.06L543.08 151.06zM540.45 151.74L537.83 150.86L537.83 150.18L540.45 151.06zM537.49 150.52L536.61 148.77L537.29 148.77L538.17 150.52zM561.11 141.74L560.24 139.99L560.92 139.99L561.79 141.74zM560.58 140.33L557.95 139.45L557.95 138.77L560.58 139.65zM557.95 139.45L555.33 139.45L555.33 138.77L557.95 138.77zM555.33 139.45L552.7 140.33L552.7 139.65L555.33 138.77zM553.04 139.99L552.17 141.74L551.49 141.74L552.36 139.99zM552.17 141.74L553.04 143.5L552.36 143.5L551.49 141.74zM552.7 143.16L554.45 144.04L554.45 144.72L552.7 143.84zM554.45 144.04L558.83 144.91L558.83 145.59L554.45 144.72zM558.83 144.91L560.58 145.79L560.58 146.47L558.83 145.59zM560.92 146.13L561.79 147.89L561.11 147.89L560.24 146.13zM561.79 147.89L561.79 148.77L561.11 148.77L561.11 147.89zM561.79 148.77L560.92 150.52L560.24 150.52L561.11 148.77zM560.58 150.86L557.95 151.74L557.95 151.06L560.58 150.18zM557.95 151.74L555.33 151.74L555.33 151.06L557.95 151.06zM555.33 151.74L552.7 150.86L552.7 150.18L555.33 151.06zM552.36 150.52L551.49 148.77L552.17 148.77L553.04 150.52zM588.04 129.45L586.29 131.21L585.61 131.21L587.36 129.45zM586.29 131.21L584.54 133.84L583.86 133.84L585.61 131.21zM584.54 133.84L582.79 137.35L582.11 137.35L583.86 133.84zM582.79 137.35L581.92 141.74L581.24 141.74L582.11 137.35zM581.92 141.74L581.92 145.25L581.24 145.25L581.24 141.74zM581.92 145.25L582.79 149.64L582.11 149.64L581.24 145.25zM582.79 149.64L584.54 153.16L583.86 153.16L582.11 149.64zM584.54 153.16L586.29 155.79L585.61 155.79L583.86 153.16zM586.29 155.79L588.04 157.55L587.36 157.55L585.61 155.79zM594.17 132.96L594.17 151.4L593.49 151.4L593.49 132.96zM606.42 132.96L606.42 151.4L605.74 151.4L605.74 132.96zM593.83 141.4L606.08 141.4L606.08 142.08L593.83 142.08zM613.42 132.96L613.42 151.4L612.74 151.4L612.74 132.96zM613.08 132.62L620.95 132.62L620.95 133.3L613.08 133.3zM620.95 132.62L623.58 133.5L623.58 134.18L620.95 133.3zM623.92 133.84L624.79 134.72L624.11 134.72L623.24 133.84zM624.79 134.72L625.67 136.47L624.99 136.47L624.11 134.72zM625.67 136.47L625.67 138.23L624.99 138.23L624.99 136.47zM625.67 138.23L624.79 139.99L624.11 139.99L624.99 138.23zM624.79 139.99L623.92 140.86L623.24 140.86L624.11 139.99zM623.58 141.2L620.95 142.08L620.95 141.4L623.58 140.52zM620.95 142.08L613.08 142.08L613.08 141.4L620.95 141.4zM619.54 141.74L625.67 151.4L624.99 151.4L618.86 141.74zM642.49 135.6L640.74 133.84L641.42 133.84L643.17 135.6zM641.08 134.18L638.45 133.3L638.45 132.62L641.08 133.5zM638.45 133.3L634.95 133.3L634.95 132.62L638.45 132.62zM634.95 133.3L632.33 134.18L632.33 133.5L634.95 132.62zM632.67 133.84L630.92 135.6L630.24 135.6L631.99 133.84zM630.92 135.6L630.92 137.35L630.24 137.35L630.24 135.6zM630.92 137.35L631.79 139.11L631.11 139.11L630.24 137.35zM631.79 139.11L632.67 139.99L631.99 139.99L631.11 139.11zM632.33 139.65L634.08 140.52L634.08 141.2L632.33 140.33zM634.08 140.52L639.33 142.28L639.33 142.96L634.08 141.2zM639.33 142.28L641.08 143.16L641.08 143.84L639.33 142.96zM641.42 143.5L642.29 144.38L641.61 144.38L640.74 143.5zM642.29 144.38L643.17 146.13L642.49 146.13L641.61 144.38zM643.17 146.13L643.17 148.77L642.49 148.77L642.49 146.13zM643.17 148.77L641.42 150.52L640.74 150.52L642.49 148.77zM641.08 150.86L638.45 151.74L638.45 151.06L641.08 150.18zM638.45 151.74L634.95 151.74L634.95 151.06L638.45 151.06zM634.95 151.74L632.33 150.86L632.33 150.18L634.95 151.06zM631.99 150.52L630.24 148.77L630.92 148.77L632.67 150.52zM648.42 129.45L650.17 131.21L649.49 131.21L647.74 129.45zM650.17 131.21L651.92 133.84L651.24 133.84L649.49 131.21zM651.92 133.84L653.67 137.35L652.99 137.35L651.24 133.84zM653.67 137.35L654.54 141.74L653.86 141.74L652.99 137.35zM654.54 141.74L654.54 145.25L653.86 145.25L653.86 141.74zM654.54 145.25L653.67 149.64L652.99 149.64L653.86 145.25zM653.67 149.64L651.92 153.16L651.24 153.16L652.99 149.64zM651.92 153.16L650.17 155.79L649.49 155.79L651.24 153.16zM650.17 155.79L648.42 157.55L647.74 157.55L649.49 155.79z"/>
<path fill="#a52a2a" d="M504.24 172.36L504.24 190.8L503.56 190.8L503.56 172.36zM497.77 172.02L510.02 172.02L510.02 172.7L497.77 172.7zM517.9 178.85L516.15 179.73L516.15 179.05L517.9 178.17zM516.49 179.39L514.74 181.14L514.06 181.14L515.81 179.39zM514.74 181.14L513.87 183.78L513.18 183.78L514.06 181.14zM513.87 183.78L513.87 185.53L513.18 185.53L513.18 183.78zM513.87 185.53L514.74 188.17L514.06 188.17L513.18 185.53zM514.74 188.17L516.49 189.92L515.81 189.92L514.06 188.17zM516.15 189.58L517.9 190.46L517.9 191.14L516.15 190.26zM517.9 190.46L520.52 190.46L520.52 191.14L517.9 191.14zM520.52 190.46L522.27 189.58L522.27 190.26L520.52 191.14zM521.93 189.92L523.68 188.17L524.37 188.17L522.62 189.92zM523.68 188.17L524.56 185.53L525.24 185.53L524.37 188.17zM524.56 185.53L524.56 183.78L525.24 183.78L525.24 185.53zM524.56 183.78L523.68 181.14L524.37 181.14L525.24 183.78zM523.68 181.14L521.93 179.39L522.62 179.39L524.37 181.14zM522.27 179.73L520.52 178.85L520.52 178.17L522.27 179.05zM520.52 178.85L517.9 178.85L517.9 178.17L520.52 178.17zM532.24 172.36L532.24 187.29L531.56 187.29L531.56 172.36zM532.24 187.29L533.12 189.92L532.43 189.92L531.56 187.29zM532.77 189.58L534.52 190.46L534.52 191.14L532.77 190.26zM534.52 190.46L536.27 190.46L536.27 191.14L534.52 191.14zM529.27 178.17L535.4 178.17L535.4 178.85L529.27 178.85zM551.49 178.51L551.49 190.8L550.81 190.8L550.81 178.51zM550.81 181.14L549.06 179.39L549.74 179.39L551.49 181.14zM549.4 179.73L547.65 178.85L547.65 178.17L549.4 179.05zM547.65 178.85L545.02 178.85L545.02 178.17L547.65 178.17zM545.02 178.85L543.27 179.73L543.27 179.05L545.02 178.17zM543.62 179.39L541.87 181.14L541.18 181.14L542.93 179.39zM541.87 181.14L540.99 183.78L540.31 183.78L541.18 181.14zM540.99 183.78L540.99 185.53L540.31 185.53L540.31 183.78zM540.99 185.53L541.87 188.17L541.18 188.17L540.31 185.53zM541.87 188.17L543.62 189.92L542.93 189.92L541.18 188.17zM543.27 189.58L545.02 190.46L545.02 191.14L543.27 190.26zM545.02 190.46L547.65 190.46L547.65 191.14L545.02 191.14zM547.65 190.46L549.4 189.58L549.4 190.26L547.65 191.14zM549.06 189.92L550.81 188.17L551.49 188.17L549.74 189.92zM558.49 172.36L558.49 190.8L557.81 190.8L557.81 172.36zM579.49 172.36L579.49 190.8L578.81 190.8L578.81 172.36zM591.74 172.36L591.74 190.8L591.06 190.8L591.06 172.36zM579.15 180.8L591.4 180.8L591.4 181.48L579.15 181.48zM598.74 172.36L598.74 190.8L598.06 190.8L598.06 172.36zM625.87 168.85L624.12 170.61L623.43 170.61L625.18 168.85zM624.12 170.61L622.37 173.24L621.68 173.24L623.43 170.61zM622.37 173.24L620.62 176.75L619.93 176.75L621.68 173.24zM620.62 176.75L619.74 181.14L619.06 181.14L619.93 176.75zM619.74 181.14L619.74 184.65L619.06 184.65L619.06 181.14zM619.74 184.65L620.62 189.04L619.93 189.04L619.06 184.65zM620.62 189.04L622.37 192.56L621.68 192.56L619.93 189.04zM622.37 192.56L624.12 195.19L623.43 195.19L621.68 192.56zM624.12 195.19L625.87 196.95L625.18 196.95L623.43 195.19zM643.37 172.36L631.12 190.8L630.43 190.8L642.68 172.36zM630.77 172.02L643.02 172.02L643.02 172.7L630.77 172.7zM630.77 190.46L643.02 190.46L643.02 191.14L630.77 191.14zM648.62 178.51L652.12 190.8L651.43 190.8L647.93 178.51zM655.62 178.51L652.12 190.8L651.43 190.8L654.93 178.51zM655.62 178.51L659.12 190.8L658.43 190.8L654.93 178.51zM662.62 178.51L659.12 190.8L658.43 190.8L661.93 178.51zM678.37 178.51L678.37 190.8L677.68 190.8L677.68 178.51zM677.68 181.14L675.93 179.39L676.62 179.39L678.37 181.14zM676.27 179.73L674.52 178.85L674.52 178.17L676.27 179.05zM674.52 178.85L671.9 178.85L671.9 178.17L674.52 178.17zM671.9 178.85L670.15 179.73L670.15 179.05L671.9 178.17zM670.49 179.39L668.74 181.14L668.06 181.14L669.81 179.39zM668.74 181.14L667.87 183.78L667.18 183.78L668.06 181.14zM667.87 183.78L667.87 185.53L667.18 185.53L667.18 183.78zM667.87 185.53L668.74 188.17L668.06 188.17L667.18 185.53zM668.74 188.17L670.49 189.92L669.81 189.92L668.06 188.17zM670.15 189.58L671.9 190.46L671.9 191.14L670.15 190.26zM671.9 190.46L674.52 190.46L674.52 191.14L671.9 191.14zM674.52 190.46L676.27 189.58L676.27 190.26L674.52 191.14zM675.93 189.92L677.68 188.17L678.37 188.17L676.62 189.92zM694.99 178.51L694.99 190.8L694.31 190.8L694.31 178.51zM694.31 181.14L692.56 179.39L693.24 179.39L694.99 181.14zM692.9 179.73L691.15 178.85L691.15 178.17L692.9 179.05zM691.15 178.85L688.52 178.85L688.52 178.17L691.15 178.17zM688.52 178.85L686.77 179.73L686.77 179.05L688.52 178.17zM687.12 179.39L685.37 181.14L684.68 181.14L686.43 179.39zM685.37 181.14L684.49 183.78L683.81 183.78L684.68 181.14zM684.49 183.78L684.49 185.53L683.81 185.53L683.81 183.78zM684.49 185.53L685.37 188.17L684.68 188.17L683.81 185.53zM685.37 188.17L687.12 189.92L686.43 189.92L684.68 188.17zM686.77 189.58L688.52 190.46L688.52 191.14L686.77 190.26zM688.52 190.46L691.15 190.46L691.15 191.14L688.52 191.14zM691.15 190.46L692.9 189.58L692.9 190.26L691.15 191.14zM692.56 189.92L694.31 188.17L694.99 188.17L693.24 189.92zM701.99 178.51L701.99 190.8L701.31 190.8L701.31 178.51zM701.31 182.02L703.93 179.39L704.62 179.39L701.99 182.02zM704.27 179.05L706.02 178.17L706.02 178.85L704.27 179.73zM706.02 178.17L708.65 178.17L708.65 178.85L706.02 178.85zM708.65 178.17L710.4 179.05L710.4 179.73L708.65 178.85zM710.74 179.39L711.62 182.02L710.93 182.02L710.06 179.39zM711.62 182.02L711.62 190.8L710.93 190.8L710.93 182.02zM726.49 175L726.49 190.8L725.81 190.8L725.81 175zM718.27 182.56L734.02 182.56L734.02 183.24L718.27 183.24zM745.4 172.7L742.77 173.58L742.77 172.9L745.4 172.02zM743.12 173.24L741.37 175.87L740.68 175.87L742.43 173.24zM741.37 175.87L740.49 180.26L739.81 180.26L740.68 175.87zM740.49 180.26L740.49 182.9L739.81 182.9L739.81 180.26zM740.49 182.9L741.37 187.29L740.68 187.29L739.81 182.9zM741.37 187.29L743.12 189.92L742.43 189.92L740.68 187.29zM742.77 189.58L745.4 190.46L745.4 191.14L742.77 190.26zM745.4 190.46L747.15 190.46L747.15 191.14L745.4 191.14zM747.15 190.46L749.77 189.58L749.77 190.26L747.15 191.14zM749.43 189.92L751.18 187.29L751.87 187.29L750.12 189.92zM751.18 187.29L752.06 182.9L752.74 182.9L751.87 187.29zM752.06 182.9L752.06 180.26L752.74 180.26L752.74 182.9zM752.06 180.26L751.18 175.87L751.87 175.87L752.74 180.26zM751.18 175.87L749.43 173.24L750.12 173.24L751.87 175.87zM749.77 173.58L747.15 172.7L747.15 172.02L749.77 172.9zM747.15 172.7L745.4 172.7L745.4 172.02L747.15 172.02zM768.15 172.7L759.4 172.7L759.4 172.02L768.15 172.02zM759.74 172.36L758.87 180.26L758.18 180.26L759.06 172.36zM758.18 180.26L759.06 179.39L759.74 179.39L758.87 180.26zM759.4 179.05L762.02 178.17L762.02 178.85L759.4 179.73zM762.02 178.17L764.65 178.17L764.65 178.85L762.02 178.85zM764.65 178.17L767.27 179.05L767.27 179.73L764.65 178.85zM767.62 179.39L769.37 181.14L768.68 181.14L766.93 179.39zM769.37 181.14L770.24 183.78L769.56 183.78L768.68 181.14zM770.24 183.78L770.24 185.53L769.56 185.53L769.56 183.78zM770.24 185.53L769.37 188.17L768.68 188.17L769.56 185.53zM769.37 188.17L767.62 189.92L766.93 189.92L768.68 188.17zM767.27 190.26L764.65 191.14L764.65 190.46L767.27 189.58zM764.65 191.14L762.02 191.14L762.02 190.46L764.65 190.46zM762.02 191.14L759.4 190.26L759.4 189.58L762.02 190.46zM759.06 189.92L758.18 189.04L758.87 189.04L759.74 189.92zM758.18 189.04L757.31 187.29L757.99 187.29L758.87 189.04zM775.49 168.85L777.24 170.61L776.56 170.61L774.81 168.85zM777.24 170.61L778.99 173.24L778.31 173.24L776.56 170.61zM778.99 173.24L780.74 176.75L780.06 176.75L778.31 173.24zM780.74 176.75L781.62 181.14L780.93 181.14L780.06 176.75zM781.62 181.14L781.62 184.65L780.93 184.65L780.93 181.14zM781.62 184.65L780.74 189.04L780.06 189.04L780.93 184.65zM780.74 189.04L778.99 192.56L778.31 192.56L780.06 189.04zM778.99 192.56L777.24 195.19L776.56 195.19L778.31 192.56zM777.24 195.19L775.49 196.95L774.81 196.95L776.56 195.19z"/>
<path fill="#000" d="M68.84 513.03L66.79 513.71L66.79 512.61L68.84 511.93zM67.34 513.16L65.98 515.21L64.88 515.21L66.24 513.16zM65.98 515.21L65.3 518.62L64.2 518.62L64.88 515.21zM65.3 518.62L65.3 520.66L64.2 520.66L64.2 518.62zM65.3 520.66L65.98 524.07L64.88 524.07L64.2 520.66zM65.98 524.07L67.34 526.12L66.24 526.12L64.88 524.07zM66.79 525.57L68.84 526.25L68.84 527.35L66.79 526.67zM68.84 526.25L70.2 526.25L70.2 527.35L68.84 527.35zM70.2 526.25L72.25 525.57L72.25 526.67L70.2 527.35zM71.7 526.12L73.06 524.07L74.16 524.07L72.8 526.12zM73.06 524.07L73.74 520.66L74.84 520.66L74.16 524.07zM73.74 520.66L73.74 518.62L74.84 518.62L74.84 520.66zM73.74 518.62L73.06 515.21L74.16 515.21L74.84 518.62zM73.06 515.21L71.7 513.16L72.8 513.16L74.16 515.21zM72.25 513.71L70.2 513.03L70.2 511.93L72.25 512.61zM70.2 513.03L68.84 513.03L68.84 511.93L70.2 511.93zM80.3 525.44L79.62 526.12L78.52 526.12L79.2 525.44zM79.62 526.12L80.3 526.8L79.2 526.8L78.52 526.12zM79.2 526.8L79.88 526.12L80.98 526.12L80.3 526.8zM79.88 526.12L79.2 525.44L80.3 525.44L80.98 526.12zM89.3 513.03L87.25 513.71L87.25 512.61L89.3 511.93zM87.8 513.16L86.44 515.21L85.34 515.21L86.7 513.16zM86.44 515.21L85.76 518.62L84.66 518.62L85.34 515.21zM85.76 518.62L85.76 520.66L84.66 520.66L84.66 518.62zM85.76 520.66L86.44 524.07L85.34 524.07L84.66 520.66zM86.44 524.07L87.8 526.12L86.7 526.12L85.34 524.07zM87.25 525.57L89.3 526.25L89.3 527.35L87.25 526.67zM89.3 526.25L90.66 526.25L90.66 527.35L89.3 527.35zM90.66 526.25L92.71 525.57L92.71 526.67L90.66 527.35zM92.16 526.12L93.52 524.07L94.62 524.07L93.26 526.12zM93.52 524.07L94.2 520.66L95.3 520.66L94.62 524.07zM94.2 520.66L94.2 518.62L95.3 518.62L95.3 520.66zM94.2 518.62L93.52 515.21L94.62 515.21L95.3 518.62zM93.52 515.21L92.16 513.16L93.26 513.16L94.62 515.21zM92.71 513.71L90.66 513.03L90.66 511.93L92.71 512.61zM90.66 513.03L89.3 513.03L89.3 511.93L90.66 511.93z"/>
<path fill="#000" d="M68.84 422.53L66.79 423.21L66.79 422.11L68.84 421.43zM67.34 422.66L65.98 424.71L64.88 424.71L66.24 422.66zM65.98 424.71L65.3 428.12L64.2 428.12L64.88 424.71zM65.3 428.12L65.3 430.16L64.2 430.16L64.2 428.12zM65.3 430.16L65.98 433.57L64.88 433.57L64.2 430.16zM65.98 433.57L67.34 435.62L66.24 435.62L64.88 433.57zM66.79 435.07L68.84 435.75L68.84 436.85L66.79 436.17zM68.84 435.75L70.2 435.75L70.2 436.85L68.84 436.85zM70.2 435.75L72.25 435.07L72.25 436.17L70.2 436.85zM71.7 435.62L73.06 433.57L74.16 433.57L72.8 435.62zM73.06 433.57L73.74 430.16L74.84 430.16L74.16 433.57zM73.74 430.16L73.74 428.12L74.84 428.12L74.84 430.16zM73.74 428.12L73.06 424.71L74.16 424.71L74.84 428.12zM73.06 424.71L71.7 422.66L72.8 422.66L74.16 424.71zM72.25 423.21L70.2 422.53L70.2 421.43L72.25 422.11zM70.2 422.53L68.84 422.53L68.84 421.43L70.2 421.43zM79.75 435.49L79.07 436.17L79.07 435.07L79.75 434.39zM79.62 435.62L80.3 436.3L79.2 436.3L78.52 435.62zM79.2 436.3L79.88 435.62L80.98 435.62L80.3 436.3zM80.43 436.17L79.75 435.49L79.75 434.39L80.43 435.07zM85.34 425.39L85.34 424.71L86.44 424.71L86.44 425.39zM85.34 424.71L86.02 423.34L87.12 423.34L86.44 424.71zM86.57 422.79L87.25 422.11L87.25 423.21L86.57 423.89zM87.25 422.11L88.62 421.43L88.62 422.53L87.25 423.21zM88.62 421.43L91.34 421.43L91.34 422.53L88.62 422.53zM91.34 421.43L92.71 422.11L92.71 423.21L91.34 422.53zM92.71 422.11L93.39 422.79L93.39 423.89L92.71 423.21zM93.94 423.34L94.62 424.71L93.52 424.71L92.84 423.34zM94.62 424.71L94.62 426.07L93.52 426.07L93.52 424.71zM94.62 426.07L93.94 427.43L92.84 427.43L93.52 426.07zM93.94 427.43L92.58 429.48L91.48 429.48L92.84 427.43zM92.03 430.03L85.21 436.85L85.21 435.75L92.03 428.93zM85.21 435.75L94.75 435.75L94.75 436.85L85.21 436.85z"/>
<path fill="#000" d="M68.84 323.63L66.79 324.31L66.79 323.21L68.84 322.53zM67.34 323.76L65.98 325.81L64.88 325.81L66.24 323.76zM65.98 325.81L65.3 329.22L64.2 329.22L64.88 325.81zM65.3 329.22L65.3 331.26L64.2 331.26L64.2 329.22zM65.3 331.26L65.98 334.67L64.88 334.67L64.2 331.26zM65.98 334.67L67.34 336.72L66.24 336.72L64.88 334.67zM66.79 336.17L68.84 336.85L68.84 337.95L66.79 337.27zM68.84 336.85L70.2 336.85L70.2 337.95L68.84 337.95zM70.2 336.85L72.25 336.17L72.25 337.27L70.2 337.95zM71.7 336.72L73.06 334.67L74.16 334.67L72.8 336.72zM73.06 334.67L73.74 331.26L74.84 331.26L74.16 334.67zM73.74 331.26L73.74 329.22L74.84 329.22L74.84 331.26zM73.74 329.22L73.06 325.81L74.16 325.81L74.84 329.22zM73.06 325.81L71.7 323.76L72.8 323.76L74.16 325.81zM72.25 324.31L70.2 323.63L70.2 322.53L72.25 323.21zM70.2 323.63L68.84 323.63L68.84 322.53L70.2 322.53zM79.75 336.59L79.07 337.27L79.07 336.17L79.75 335.49zM79.62 336.72L80.3 337.4L79.2 337.4L78.52 336.72zM79.2 337.4L79.88 336.72L80.98 336.72L80.3 337.4zM80.43 337.27L79.75 336.59L79.75 335.49L80.43 336.17zM92.58 323.08L85.76 332.63L84.66 332.63L91.48 323.08zM85.21 332.08L95.44 332.08L95.44 333.18L85.21 333.18zM92.58 323.08L92.58 337.4L91.48 337.4L91.48 323.08z"/>
<path fill="#000" d="M68.84 224.73L66.79 225.41L66.79 224.31L68.84 223.63zM67.34 224.86L65.98 226.91L64.88 226.91L66.24 224.86zM65.98 226.91L65.3 230.32L64.2 230.32L64.88 226.91zM65.3 230.32L65.3 232.36L64.2 232.36L64.2 230.32zM65.3 232.36L65.98 235.77L64.88 235.77L64.2 232.36zM65.98 235.77L67.34 237.82L66.24 237.82L64.88 235.77zM66.79 237.27L68.84 237.95L68.84 239.05L66.79 238.37zM68.84 237.95L70.2 237.95L70.2 239.05L68.84 239.05zM70.2 237.95L72.25 237.27L72.25 238.37L70.2 239.05zM71.7 237.82L73.06 235.77L74.16 235.77L72.8 237.82zM73.06 235.77L73.74 232.36L74.84 232.36L74.16 235.77zM73.74 232.36L73.74 230.32L74.84 230.32L74.84 232.36zM73.74 230.32L73.06 226.91L74.16 226.91L74.84 230.32zM73.06 226.91L71.7 224.86L72.8 224.86L74.16 226.91zM72.25 225.41L70.2 224.73L70.2 223.63L72.25 224.31zM70.2 224.73L68.84 224.73L68.84 223.63L70.2 223.63zM80.3 237.14L79.62 237.82L78.52 237.82L79.2 237.14zM79.07 237.27L79.75 237.95L79.75 239.05L79.07 238.37zM79.75 237.95L80.43 237.27L80.43 238.37L79.75 239.05zM79.88 237.82L79.2 237.14L80.3 237.14L80.98 237.82zM93.52 226.22L92.84 224.86L93.94 224.86L94.62 226.22zM93.39 225.41L91.34 224.73L91.34 223.63L93.39 224.31zM91.34 224.73L89.98 224.73L89.98 223.63L91.34 223.63zM89.98 224.73L87.93 225.41L87.93 224.31L89.98 223.63zM88.48 224.86L87.12 226.91L86.02 226.91L87.38 224.86zM87.12 226.91L86.44 230.32L85.34 230.32L86.02 226.91zM86.44 230.32L86.44 233.73L85.34 233.73L85.34 230.32zM86.44 233.73L87.12 236.45L86.02 236.45L85.34 233.73zM86.57 235.9L87.93 237.27L87.93 238.37L86.57 237zM87.93 237.27L89.98 237.95L89.98 239.05L87.93 238.37zM89.98 237.95L90.66 237.95L90.66 239.05L89.98 239.05zM90.66 237.95L92.71 237.27L92.71 238.37L90.66 239.05zM92.71 237.27L94.07 235.9L94.07 237L92.71 238.37zM93.52 236.45L94.2 234.41L95.3 234.41L94.62 236.45zM94.2 234.41L94.2 233.73L95.3 233.73L95.3 234.41zM94.2 233.73L93.52 231.68L94.62 231.68L95.3 233.73zM94.07 232.23L92.71 230.87L92.71 229.77L94.07 231.13zM92.71 230.87L90.66 230.18L90.66 229.08L92.71 229.77zM90.66 230.18L89.98 230.18L89.98 229.08L90.66 229.08zM89.98 230.18L87.93 230.87L87.93 229.77L89.98 229.08zM87.93 230.87L86.57 232.23L86.57 231.13L87.93 229.77zM87.12 231.68L86.44 233.73L85.34 233.73L86.02 231.68z"/>
<path fill="#000" d="M68.84 125.83L66.79 126.51L66.79 125.41L68.84 124.73zM67.34 125.96L65.98 128.01L64.88 128.01L66.24 125.96zM65.98 128.01L65.3 131.42L64.2 131.42L64.88 128.01zM65.3 131.42L65.3 133.46L64.2 133.46L64.2 131.42zM65.3 133.46L65.98 136.87L64.88 136.87L64.2 133.46zM65.98 136.87L67.34 138.92L66.24 138.92L64.88 136.87zM66.79 138.37L68.84 139.05L68.84 140.15L66.79 139.47zM68.84 139.05L70.2 139.05L70.2 140.15L68.84 140.15zM70.2 139.05L72.25 138.37L72.25 139.47L70.2 140.15zM71.7 138.92L73.06 136.87L74.16 136.87L72.8 138.92zM73.06 136.87L73.74 133.46L74.84 133.46L74.16 136.87zM73.74 133.46L73.74 131.42L74.84 131.42L74.84 133.46zM73.74 131.42L73.06 128.01L74.16 128.01L74.84 131.42zM73.06 128.01L71.7 125.96L72.8 125.96L74.16 128.01zM72.25 126.51L70.2 125.83L70.2 124.73L72.25 125.41zM70.2 125.83L68.84 125.83L68.84 124.73L70.2 124.73zM80.3 138.24L79.62 138.92L78.52 138.92L79.2 138.24zM79.07 138.37L79.75 139.05L79.75 140.15L79.07 139.47zM79.75 139.05L80.43 138.37L80.43 139.47L79.75 140.15zM79.88 138.92L79.2 138.24L80.3 138.24L80.98 138.92zM88.62 125.83L86.57 126.51L86.57 125.41L88.62 124.73zM87.12 125.96L86.44 127.32L85.34 127.32L86.02 125.96zM86.44 127.32L86.44 128.69L85.34 128.69L85.34 127.32zM86.44 128.69L87.12 130.05L86.02 130.05L85.34 128.69zM86.57 129.5L87.93 130.18L87.93 131.28L86.57 130.6zM87.93 130.18L90.66 130.87L90.66 131.97L87.93 131.28zM90.66 130.87L92.71 131.55L92.71 132.65L90.66 131.97zM92.71 131.55L94.07 132.91L94.07 134.01L92.71 132.65zM94.62 133.46L95.3 134.83L94.2 134.83L93.52 133.46zM95.3 134.83L95.3 136.87L94.2 136.87L94.2 134.83zM95.3 136.87L94.62 138.24L93.52 138.24L94.2 136.87zM94.62 138.24L93.94 138.92L92.84 138.92L93.52 138.24zM93.39 139.47L91.34 140.15L91.34 139.05L93.39 138.37zM91.34 140.15L88.62 140.15L88.62 139.05L91.34 139.05zM88.62 140.15L86.57 139.47L86.57 138.37L88.62 139.05zM86.02 138.92L85.34 138.24L86.44 138.24L87.12 138.92zM85.34 138.24L84.66 136.87L85.76 136.87L86.44 138.24zM84.66 136.87L84.66 134.83L85.76 134.83L85.76 136.87zM84.66 134.83L85.34 133.46L86.44 133.46L85.76 134.83zM85.34 133.46L86.7 132.1L87.8 132.1L86.44 133.46zM87.25 131.55L89.3 130.87L89.3 131.97L87.25 132.65zM89.3 130.87L92.03 130.18L92.03 131.28L89.3 131.97zM92.03 130.18L93.39 129.5L93.39 130.6L92.03 131.28zM92.84 130.05L93.52 128.69L94.62 128.69L93.94 130.05zM93.52 128.69L93.52 127.32L94.62 127.32L94.62 128.69zM93.52 127.32L92.84 125.96L93.94 125.96L94.62 127.32zM93.39 126.51L91.34 125.83L91.34 124.73L93.39 125.41zM91.34 125.83L88.62 125.83L88.62 124.73L91.34 124.73z"/>
<path fill="#000" d="M66.79 34.86L68.16 34.17L68.16 35.27L66.79 35.96zM68.16 34.17L70.2 32.13L70.2 33.23L68.16 35.27zM70.75 32.68L70.75 47L69.65 47L69.65 32.68zM79.75 46.19L79.07 46.87L79.07 45.77L79.75 45.09zM79.07 45.77L79.75 46.45L79.75 47.55L79.07 46.87zM79.2 47L79.88 46.32L80.98 46.32L80.3 47zM79.88 46.32L79.2 45.64L80.3 45.64L80.98 46.32zM89.3 33.23L87.25 33.91L87.25 32.81L89.3 32.13zM87.8 33.36L86.44 35.41L85.34 35.41L86.7 33.36zM86.44 35.41L85.76 38.82L84.66 38.82L85.34 35.41zM85.76 38.82L85.76 40.86L84.66 40.86L84.66 38.82zM85.76 40.86L86.44 44.27L85.34 44.27L84.66 40.86zM86.44 44.27L87.8 46.32L86.7 46.32L85.34 44.27zM87.25 45.77L89.3 46.45L89.3 47.55L87.25 46.87zM89.3 46.45L90.66 46.45L90.66 47.55L89.3 47.55zM90.66 46.45L92.71 45.77L92.71 46.87L90.66 47.55zM92.16 46.32L93.52 44.27L94.62 44.27L93.26 46.32zM93.52 44.27L94.2 40.86L95.3 40.86L94.62 44.27zM94.2 40.86L94.2 38.82L95.3 38.82L95.3 40.86zM94.2 38.82L93.52 35.41L94.62 35.41L95.3 38.82zM93.52 35.41L92.16 33.36L93.26 33.36L94.62 35.41zM92.71 33.91L90.66 33.23L90.66 32.13L92.71 32.81zM90.66 33.23L89.3 33.23L89.3 32.13L90.66 32.13z"/>
<path fill="#000" d="M128.09 544.23L126.04 544.91L126.04 543.81L128.09 543.13zM126.59 544.36L125.23 546.41L124.13 546.41L125.49 544.36zM125.23 546.41L124.55 549.82L123.45 549.82L124.13 546.41zM124.55 549.82L124.55 551.86L123.45 551.86L123.45 549.82zM124.55 551.86L125.23 555.27L124.13 555.27L123.45 551.86zM125.23 555.27L126.59 557.32L125.49 557.32L124.13 555.27zM126.04 556.77L128.09 557.45L128.09 558.55L126.04 557.87zM128.09 557.45L129.45 557.45L129.45 558.55L128.09 558.55zM129.45 557.45L131.5 556.77L131.5 557.87L129.45 558.55zM130.95 557.32L132.31 555.27L133.41 555.27L132.05 557.32zM132.31 555.27L132.99 551.86L134.09 551.86L133.41 555.27zM132.99 551.86L132.99 549.82L134.09 549.82L134.09 551.86zM132.99 549.82L132.31 546.41L133.41 546.41L134.09 549.82zM132.31 546.41L130.95 544.36L132.05 544.36L133.41 546.41zM131.5 544.91L129.45 544.23L129.45 543.13L131.5 543.81zM129.45 544.23L128.09 544.23L128.09 543.13L129.45 543.13zM139.55 556.64L138.87 557.32L137.77 557.32L138.45 556.64zM138.87 557.32L139.55 558L138.45 558L137.77 557.32zM139 557.45L139.68 556.77L139.68 557.87L139 558.55zM139.68 557.87L139 557.19L139 556.09L139.68 556.77zM146.5 545.86L147.87 545.17L147.87 546.27L146.5 546.96zM147.32 545.72L149.36 543.68L150.46 543.68L148.42 545.72zM150.46 543.68L150.46 558L149.36 558L149.36 543.68z"/>
<path fill="#000" d="M368.27 545.86L369.64 545.17L369.64 546.27L368.27 546.96zM369.09 545.72L371.13 543.68L372.23 543.68L370.19 545.72zM372.23 543.68L372.23 558L371.13 558L371.13 543.68z"/>
<path fill="#000" d="M593.45 545.86L594.82 545.17L594.82 546.27L593.45 546.96zM594.27 545.72L596.31 543.68L597.41 543.68L595.37 545.72zM597.41 543.68L597.41 558L596.31 558L596.31 543.68zM609.14 544.23L607.09 544.91L607.09 543.81L609.14 543.13zM607.64 544.36L606.28 546.41L605.18 546.41L606.54 544.36zM606.28 546.41L605.6 549.82L604.5 549.82L605.18 546.41zM605.6 549.82L605.6 551.86L604.5 551.86L604.5 549.82zM605.6 551.86L606.28 555.27L605.18 555.27L604.5 551.86zM606.28 555.27L607.64 557.32L606.54 557.32L605.18 555.27zM607.09 556.77L609.14 557.45L609.14 558.55L607.09 557.87zM609.14 557.45L610.5 557.45L610.5 558.55L609.14 558.55zM610.5 557.45L612.55 556.77L612.55 557.87L610.5 558.55zM612 557.32L613.36 555.27L614.46 555.27L613.1 557.32zM613.36 555.27L614.04 551.86L615.14 551.86L614.46 555.27zM614.04 551.86L614.04 549.82L615.14 549.82L615.14 551.86zM614.04 549.82L613.36 546.41L614.46 546.41L615.14 549.82zM613.36 546.41L612 544.36L613.1 544.36L614.46 546.41zM612.55 544.91L610.5 544.23L610.5 543.13L612.55 543.81zM610.5 544.23L609.14 544.23L609.14 543.13L610.5 543.13z"/>
<path fill="#000" d="M32.52 445.51L31.16 446.19L31.16 445.09L32.52 444.41zM31.71 445.64L30.35 447L29.25 447L30.61 445.64zM30.35 447L29.67 448.36L28.57 448.36L29.25 447zM29.67 448.36L29.67 451.08L28.57 451.08L28.57 448.36zM29.67 451.08L30.35 452.44L29.25 452.44L28.57 451.08zM30.35 452.44L31.71 453.8L30.61 453.8L29.25 452.44zM31.16 453.25L32.52 453.93L32.52 455.03L31.16 454.35zM32.52 453.93L34.56 454.61L34.56 455.71L32.52 455.03zM34.56 454.61L37.96 454.61L37.96 455.71L34.56 455.71zM37.96 454.61L40 453.93L40 455.03L37.96 455.71zM40 453.93L41.36 453.25L41.36 454.35L40 455.03zM40.81 453.8L42.17 452.44L43.27 452.44L41.91 453.8zM42.17 452.44L42.85 451.08L43.95 451.08L43.27 452.44zM42.85 451.08L42.85 448.36L43.95 448.36L43.95 451.08zM42.85 448.36L42.17 447L43.27 447L43.95 448.36zM42.17 447L40.81 445.64L41.91 445.64L43.27 447zM41.36 446.19L40 445.51L40 444.41L41.36 445.09zM34.43 437.48L35.11 438.84L34.01 438.84L33.33 437.48zM35.11 438.84L36.47 440.2L35.37 440.2L34.01 438.84zM35.92 439.65L37.96 440.33L37.96 441.43L35.92 440.75zM37.96 440.33L39.32 440.33L39.32 441.43L37.96 441.43zM39.32 440.33L41.36 439.65L41.36 440.75L39.32 441.43zM40.81 440.2L42.17 438.84L43.27 438.84L41.91 440.2zM42.17 438.84L42.85 437.48L43.95 437.48L43.27 438.84zM42.85 437.48L42.85 435.44L43.95 435.44L43.95 437.48zM42.85 435.44L42.17 434.08L43.27 434.08L43.95 435.44zM42.17 434.08L40.81 432.72L41.91 432.72L43.27 434.08zM41.36 433.27L39.32 432.59L39.32 431.49L41.36 432.17zM39.32 432.59L37.96 432.59L37.96 431.49L39.32 431.49zM37.96 432.59L35.92 433.27L35.92 432.17L37.96 431.49zM36.47 432.72L35.11 434.08L34.01 434.08L35.37 432.72zM35.11 434.08L34.43 435.44L33.33 435.44L34.01 434.08zM34.43 435.44L34.43 437.48L33.33 437.48L33.33 435.44zM33.88 426.73L43.4 426.73L43.4 427.83L33.88 427.83zM36.6 427.83L34.56 425.79L34.56 424.69L36.6 426.73zM34.01 425.24L33.33 423.88L34.43 423.88L35.11 425.24zM33.33 423.88L33.33 421.84L34.43 421.84L34.43 423.88zM33.33 421.84L34.01 420.48L35.11 420.48L34.43 421.84zM34.56 419.93L36.6 419.25L36.6 420.35L34.56 421.03zM36.6 419.25L43.4 419.25L43.4 420.35L36.6 420.35zM36.6 420.35L34.56 418.31L34.56 417.21L36.6 419.25zM34.01 417.76L33.33 416.4L34.43 416.4L35.11 417.76zM33.33 416.4L33.33 414.36L34.43 414.36L34.43 416.4zM33.33 414.36L34.01 413L35.11 413L34.43 414.36zM34.56 412.45L36.6 411.77L36.6 412.87L34.56 413.55zM36.6 411.77L43.4 411.77L43.4 412.87L36.6 412.87zM33.88 406.33L48.16 406.33L48.16 407.43L33.88 407.43zM35.37 406.88L34.01 405.52L35.11 405.52L36.47 406.88zM34.01 405.52L33.33 404.16L34.43 404.16L35.11 405.52zM33.33 404.16L33.33 402.12L34.43 402.12L34.43 404.16zM33.33 402.12L34.01 400.76L35.11 400.76L34.43 402.12zM34.01 400.76L35.37 399.4L36.47 399.4L35.11 400.76zM35.92 398.85L37.96 398.17L37.96 399.27L35.92 399.95zM37.96 398.17L39.32 398.17L39.32 399.27L37.96 399.27zM39.32 398.17L41.36 398.85L41.36 399.95L39.32 399.27zM41.91 399.4L43.27 400.76L42.17 400.76L40.81 399.4zM43.27 400.76L43.95 402.12L42.85 402.12L42.17 400.76zM43.95 402.12L43.95 404.16L42.85 404.16L42.85 402.12zM43.95 404.16L43.27 405.52L42.17 405.52L42.85 404.16zM43.27 405.52L41.91 406.88L40.81 406.88L42.17 405.52zM29.12 393.41L43.4 393.41L43.4 394.51L29.12 394.51zM37.41 389.2L37.41 381.04L38.51 381.04L38.51 389.2zM37.96 381.59L36.6 381.59L36.6 380.49L37.96 380.49zM36.6 381.59L35.24 382.27L35.24 381.17L36.6 380.49zM35.79 381.72L35.11 382.4L34.01 382.4L34.69 381.72zM35.11 382.4L34.43 383.76L33.33 383.76L34.01 382.4zM34.43 383.76L34.43 385.8L33.33 385.8L33.33 383.76zM34.43 385.8L35.11 387.16L34.01 387.16L33.33 385.8zM35.11 387.16L36.47 388.52L35.37 388.52L34.01 387.16zM35.92 387.97L37.96 388.65L37.96 389.75L35.92 389.07zM37.96 388.65L39.32 388.65L39.32 389.75L37.96 389.75zM39.32 388.65L41.36 387.97L41.36 389.07L39.32 389.75zM40.81 388.52L42.17 387.16L43.27 387.16L41.91 388.52zM42.17 387.16L42.85 385.8L43.95 385.8L43.27 387.16zM42.85 385.8L42.85 383.76L43.95 383.76L43.95 385.8zM42.85 383.76L42.17 382.4L43.27 382.4L43.95 383.76zM42.17 382.4L40.81 381.04L41.91 381.04L43.27 382.4zM29.12 375.05L40.68 375.05L40.68 376.15L29.12 376.15zM40.68 375.05L42.72 374.37L42.72 375.47L40.68 376.15zM42.17 374.92L42.85 373.56L43.95 373.56L43.27 374.92zM42.85 373.56L42.85 372.2L43.95 372.2L43.95 373.56zM33.33 377.64L33.33 372.88L34.43 372.88L34.43 377.64zM37.41 368.8L37.41 360.64L38.51 360.64L38.51 368.8zM37.96 361.19L36.6 361.19L36.6 360.09L37.96 360.09zM36.6 361.19L35.24 361.87L35.24 360.77L36.6 360.09zM35.79 361.32L35.11 362L34.01 362L34.69 361.32zM35.11 362L34.43 363.36L33.33 363.36L34.01 362zM34.43 363.36L34.43 365.4L33.33 365.4L33.33 363.36zM34.43 365.4L35.11 366.76L34.01 366.76L33.33 365.4zM35.11 366.76L36.47 368.12L35.37 368.12L34.01 366.76zM35.92 367.57L37.96 368.25L37.96 369.35L35.92 368.67zM37.96 368.25L39.32 368.25L39.32 369.35L37.96 369.35zM39.32 368.25L41.36 367.57L41.36 368.67L39.32 369.35zM40.81 368.12L42.17 366.76L43.27 366.76L41.91 368.12zM42.17 366.76L42.85 365.4L43.95 365.4L43.27 366.76zM42.85 365.4L42.85 363.36L43.95 363.36L43.95 365.4zM42.85 363.36L42.17 362L43.27 362L43.95 363.36zM42.17 362L40.81 360.64L41.91 360.64L43.27 362zM33.88 355.33L43.4 355.33L43.4 356.43L33.88 356.43zM36.05 355.88L34.01 353.84L35.11 353.84L37.15 355.88zM34.01 353.84L33.33 352.48L34.43 352.48L35.11 353.84zM33.33 352.48L33.33 350.44L34.43 350.44L34.43 352.48zM33.33 350.44L34.01 349.08L35.11 349.08L34.43 350.44zM34.56 348.53L36.6 347.85L36.6 348.95L34.56 349.63zM36.6 347.85L43.4 347.85L43.4 348.95L36.6 348.95zM37.41 343.64L37.41 335.48L38.51 335.48L38.51 343.64zM37.96 336.03L36.6 336.03L36.6 334.93L37.96 334.93zM36.6 336.03L35.24 336.71L35.24 335.61L36.6 334.93zM35.79 336.16L35.11 336.84L34.01 336.84L34.69 336.16zM35.11 336.84L34.43 338.2L33.33 338.2L34.01 336.84zM34.43 338.2L34.43 340.24L33.33 340.24L33.33 338.2zM34.43 340.24L35.11 341.6L34.01 341.6L33.33 340.24zM34.56 341.05L35.92 342.41L35.92 343.51L34.56 342.15zM35.92 342.41L37.96 343.09L37.96 344.19L35.92 343.51zM37.96 343.09L39.32 343.09L39.32 344.19L37.96 344.19zM39.32 343.09L41.36 342.41L41.36 343.51L39.32 344.19zM41.36 342.41L42.72 341.05L42.72 342.15L41.36 343.51zM42.17 341.6L42.85 340.24L43.95 340.24L43.27 341.6zM42.85 340.24L42.85 338.2L43.95 338.2L43.95 340.24zM42.85 338.2L42.17 336.84L43.27 336.84L43.95 338.2zM42.72 337.39L41.36 336.03L41.36 334.93L42.72 336.29zM35.92 324.47L34.56 325.15L34.56 324.05L35.92 323.37zM35.11 324.6L34.43 326.64L33.33 326.64L34.01 324.6zM34.43 326.64L34.43 328.68L33.33 328.68L33.33 326.64zM34.43 328.68L35.11 330.72L34.01 330.72L33.33 328.68zM34.56 330.17L35.92 330.85L35.92 331.95L34.56 331.27zM35.92 330.85L37.28 330.17L37.28 331.27L35.92 331.95zM36.73 330.72L37.41 329.36L38.51 329.36L37.83 330.72zM37.41 329.36L38.09 325.96L39.19 325.96L38.51 329.36zM38.09 325.96L38.77 324.6L39.87 324.6L39.19 325.96zM39.32 324.05L40.68 323.37L40.68 324.47L39.32 325.15zM40.68 323.37L41.36 323.37L41.36 324.47L40.68 324.47zM41.36 323.37L42.72 324.05L42.72 325.15L41.36 324.47zM43.27 324.6L43.95 326.64L42.85 326.64L42.17 324.6zM43.95 326.64L43.95 328.68L42.85 328.68L42.85 326.64zM43.95 328.68L43.27 330.72L42.17 330.72L42.85 328.68zM42.72 331.27L41.36 331.95L41.36 330.85L42.72 330.17zM35.92 312.91L34.56 313.59L34.56 312.49L35.92 311.81zM35.11 313.04L34.43 315.08L33.33 315.08L34.01 313.04zM34.43 315.08L34.43 317.12L33.33 317.12L33.33 315.08zM34.43 317.12L35.11 319.16L34.01 319.16L33.33 317.12zM34.56 318.61L35.92 319.29L35.92 320.39L34.56 319.71zM35.92 319.29L37.28 318.61L37.28 319.71L35.92 320.39zM36.73 319.16L37.41 317.8L38.51 317.8L37.83 319.16zM37.41 317.8L38.09 314.4L39.19 314.4L38.51 317.8zM38.09 314.4L38.77 313.04L39.87 313.04L39.19 314.4zM39.32 312.49L40.68 311.81L40.68 312.91L39.32 313.59zM40.68 311.81L41.36 311.81L41.36 312.91L40.68 312.91zM41.36 311.81L42.72 312.49L42.72 313.59L41.36 312.91zM43.27 313.04L43.95 315.08L42.85 315.08L42.17 313.04zM43.95 315.08L43.95 317.12L42.85 317.12L42.85 315.08zM43.95 317.12L43.27 319.16L42.17 319.16L42.85 317.12zM42.72 319.71L41.36 320.39L41.36 319.29L42.72 318.61zM29.67 292.64L29.67 294L28.57 294L28.57 292.64zM29.67 294L30.35 295.36L29.25 295.36L28.57 294zM29.8 294.81L31.84 295.49L31.84 296.59L29.8 295.91zM31.84 295.49L43.4 295.49L43.4 296.59L31.84 296.59zM33.33 298.08L33.33 293.32L34.43 293.32L34.43 298.08zM34.56 268.03L33.2 268.71L33.2 267.61L34.56 266.93zM33.75 268.16L33.07 269.52L31.97 269.52L32.65 268.16zM33.07 269.52L33.07 271.56L31.97 271.56L31.97 269.52zM33.07 271.56L33.75 272.92L32.65 272.92L31.97 271.56zM33.75 272.92L34.43 273.6L33.33 273.6L32.65 272.92zM33.88 273.05L35.24 273.73L35.24 274.83L33.88 274.15zM35.24 273.73L37.28 273.73L37.28 274.83L35.24 274.83zM37.28 273.73L38.64 273.05L38.64 274.15L37.28 274.83zM38.09 273.6L38.77 272.92L39.87 272.92L39.19 273.6zM38.77 272.92L39.45 271.56L40.55 271.56L39.87 272.92zM39.45 271.56L39.45 269.52L40.55 269.52L40.55 271.56zM39.45 269.52L38.77 268.16L39.87 268.16L40.55 269.52zM39.32 268.71L37.96 268.03L37.96 266.93L39.32 267.61zM32.52 266.93L37.96 266.93L37.96 268.03L32.52 268.03zM37.96 266.93L39.32 266.25L39.32 267.35L37.96 268.03zM38.77 266.8L39.45 266.12L40.55 266.12L39.87 266.8zM39.45 266.12L39.45 264.76L40.55 264.76L40.55 266.12zM40 265.31L39.32 264.63L39.32 263.53L40 264.21zM39.32 264.63L37.96 263.95L37.96 262.85L39.32 263.53zM37.96 263.95L35.24 263.95L35.24 262.85L37.96 262.85zM35.24 263.95L33.2 264.63L33.2 263.53L35.24 262.85zM33.2 264.63L31.84 265.31L31.84 264.21L33.2 263.53zM32.39 264.76L31.03 266.12L29.93 266.12L31.29 264.76zM31.03 266.12L30.35 267.48L29.25 267.48L29.93 266.12zM30.35 267.48L29.67 269.52L28.57 269.52L29.25 267.48zM29.67 269.52L29.67 271.56L28.57 271.56L28.57 269.52zM29.67 271.56L30.35 273.6L29.25 273.6L28.57 271.56zM30.35 273.6L31.03 274.96L29.93 274.96L29.25 273.6zM30.48 274.41L31.84 275.77L31.84 276.87L30.48 275.51zM31.84 275.77L33.2 276.45L33.2 277.55L31.84 276.87zM33.2 276.45L35.24 277.13L35.24 278.23L33.2 277.55zM35.24 277.13L37.28 277.13L37.28 278.23L35.24 278.23zM37.28 277.13L39.32 276.45L39.32 277.55L37.28 278.23zM39.32 276.45L40.68 275.77L40.68 276.87L39.32 277.55zM40.68 275.77L42.04 274.41L42.04 275.51L40.68 276.87zM41.49 274.96L42.17 273.6L43.27 273.6L42.59 274.96zM42.17 273.6L42.85 271.56L43.95 271.56L43.27 273.6zM42.85 271.56L42.85 269.52L43.95 269.52L43.95 271.56zM42.85 269.52L42.17 267.48L43.27 267.48L43.95 269.52zM42.17 267.48L41.49 266.12L42.59 266.12L43.27 267.48zM29.12 246.53L43.4 246.53L43.4 247.63L29.12 247.63zM28.57 247.08L28.57 242.32L29.67 242.32L29.67 247.08zM28.57 242.32L29.25 240.28L30.35 240.28L29.67 242.32zM29.8 239.73L31.16 238.37L31.16 239.47L29.8 240.83zM31.16 238.37L32.52 237.69L32.52 238.79L31.16 239.47zM32.52 237.69L34.56 237.01L34.56 238.11L32.52 238.79zM34.56 237.01L37.96 237.01L37.96 238.11L34.56 238.11zM37.96 237.01L40 237.69L40 238.79L37.96 238.11zM40 237.69L41.36 238.37L41.36 239.47L40 238.79zM41.36 238.37L42.72 239.73L42.72 240.83L41.36 239.47zM43.27 240.28L43.95 242.32L42.85 242.32L42.17 240.28zM43.95 242.32L43.95 247.08L42.85 247.08L42.85 242.32zM31.71 211.04L37.83 221.92L36.73 221.92L30.61 211.04zM36.73 221.92L42.85 211.04L43.95 211.04L37.83 221.92zM32.52 195.27L31.84 195.27L31.84 194.17L32.52 194.17zM31.84 195.27L30.48 194.59L30.48 193.49L31.84 194.17zM29.93 194.04L29.25 193.36L30.35 193.36L31.03 194.04zM29.25 193.36L28.57 192L29.67 192L30.35 193.36zM28.57 192L28.57 189.28L29.67 189.28L29.67 192zM28.57 189.28L29.25 187.92L30.35 187.92L29.67 189.28zM29.25 187.92L29.93 187.24L31.03 187.24L30.35 187.92zM30.48 186.69L31.84 186.01L31.84 187.11L30.48 187.79zM31.84 186.01L33.2 186.01L33.2 187.11L31.84 187.11zM33.2 186.01L34.56 186.69L34.56 187.79L33.2 187.11zM34.56 186.69L36.6 188.05L36.6 189.15L34.56 187.79zM36.6 188.05L43.4 194.85L43.4 195.95L36.6 189.15zM42.85 195.4L42.85 185.88L43.95 185.88L43.95 195.4zM29.67 177.72L30.35 179.76L29.25 179.76L28.57 177.72zM29.8 179.21L31.84 180.57L31.84 181.67L29.8 180.31zM31.84 180.57L35.24 181.25L35.24 182.35L31.84 181.67zM35.24 181.25L37.28 181.25L37.28 182.35L35.24 182.35zM37.28 181.25L40.68 180.57L40.68 181.67L37.28 182.35zM40.68 180.57L42.72 179.21L42.72 180.31L40.68 181.67zM42.17 179.76L42.85 177.72L43.95 177.72L43.27 179.76zM42.85 177.72L42.85 176.36L43.95 176.36L43.95 177.72zM42.85 176.36L42.17 174.32L43.27 174.32L43.95 176.36zM42.72 174.87L40.68 173.51L40.68 172.41L42.72 173.77zM40.68 173.51L37.28 172.83L37.28 171.73L40.68 172.41zM37.28 172.83L35.24 172.83L35.24 171.73L37.28 171.73zM35.24 172.83L31.84 173.51L31.84 172.41L35.24 171.73zM31.84 173.51L29.8 174.87L29.8 173.77L31.84 172.41zM30.35 174.32L29.67 176.36L28.57 176.36L29.25 174.32zM29.67 176.36L29.67 177.72L28.57 177.72L28.57 176.36zM29.67 164.12L30.35 166.16L29.25 166.16L28.57 164.12zM29.8 165.61L31.84 166.97L31.84 168.07L29.8 166.71zM31.84 166.97L35.24 167.65L35.24 168.75L31.84 168.07zM35.24 167.65L37.28 167.65L37.28 168.75L35.24 168.75zM37.28 167.65L40.68 166.97L40.68 168.07L37.28 168.75zM40.68 166.97L42.72 165.61L42.72 166.71L40.68 168.07zM42.17 166.16L42.85 164.12L43.95 164.12L43.27 166.16zM42.85 164.12L42.85 162.76L43.95 162.76L43.95 164.12zM42.85 162.76L42.17 160.72L43.27 160.72L43.95 162.76zM42.72 161.27L40.68 159.91L40.68 158.81L42.72 160.17zM40.68 159.91L37.28 159.23L37.28 158.13L40.68 158.81zM37.28 159.23L35.24 159.23L35.24 158.13L37.28 158.13zM35.24 159.23L31.84 159.91L31.84 158.81L35.24 158.13zM31.84 159.91L29.8 161.27L29.8 160.17L31.84 158.81zM30.35 160.72L29.67 162.76L28.57 162.76L29.25 160.72zM29.67 162.76L29.67 164.12L28.57 164.12L28.57 162.76zM29.12 142.49L43.4 142.49L43.4 143.59L29.12 143.59zM29.12 142.49L43.4 137.05L43.4 138.15L29.12 143.59zM29.12 131.61L43.4 137.05L43.4 138.15L29.12 132.71zM29.12 131.61L43.4 131.61L43.4 132.71L29.12 132.71zM33.88 126.17L48.16 126.17L48.16 127.27L33.88 127.27zM35.92 127.27L34.56 125.91L34.56 124.81L35.92 126.17zM34.01 125.36L33.33 124L34.43 124L35.11 125.36zM33.33 124L33.33 121.96L34.43 121.96L34.43 124zM33.33 121.96L34.01 120.6L35.11 120.6L34.43 121.96zM34.01 120.6L35.37 119.24L36.47 119.24L35.11 120.6zM35.92 118.69L37.96 118.01L37.96 119.11L35.92 119.79zM37.96 118.01L39.32 118.01L39.32 119.11L37.96 119.11zM39.32 118.01L41.36 118.69L41.36 119.79L39.32 119.11zM41.91 119.24L43.27 120.6L42.17 120.6L40.81 119.24zM43.27 120.6L43.95 121.96L42.85 121.96L42.17 120.6zM43.95 121.96L43.95 124L42.85 124L42.85 121.96zM43.95 124L43.27 125.36L42.17 125.36L42.85 124zM42.72 125.91L41.36 127.27L41.36 126.17L42.72 124.81zM36.47 106.32L35.11 107.68L34.01 107.68L35.37 106.32zM35.11 107.68L34.43 109.04L33.33 109.04L34.01 107.68zM34.43 109.04L34.43 111.08L33.33 111.08L33.33 109.04zM34.43 111.08L35.11 112.44L34.01 112.44L33.33 111.08zM34.56 111.89L35.92 113.25L35.92 114.35L34.56 112.99zM35.92 113.25L37.96 113.93L37.96 115.03L35.92 114.35zM37.96 113.93L39.32 113.93L39.32 115.03L37.96 115.03zM39.32 113.93L41.36 113.25L41.36 114.35L39.32 115.03zM41.36 113.25L42.72 111.89L42.72 112.99L41.36 114.35zM42.17 112.44L42.85 111.08L43.95 111.08L43.27 112.44zM42.85 111.08L42.85 109.04L43.95 109.04L43.95 111.08zM42.85 109.04L42.17 107.68L43.27 107.68L43.95 109.04zM42.17 107.68L40.81 106.32L41.91 106.32L43.27 107.68z"/>
<path fill="#000" d="M316.83 427.21L328.3 424.48L328.3 425.28L316.83 428.01zM316.83 421.75L328.3 424.48L328.3 425.28L316.83 422.55zM316.83 421.75L328.3 419.02L328.3 419.82L316.83 422.55zM316.83 416.29L328.3 419.02L328.3 419.82L316.83 417.09zM316.83 410.28L328.3 414.65L328.3 415.45L316.83 411.08zM316.83 410.28L328.3 405.91L328.3 406.71L316.83 411.08zM324.08 413.41L324.08 407.95L324.88 407.95L324.88 413.41zM316.83 403.18L328.3 403.18L328.3 403.98L316.83 403.98zM327.9 403.58L327.9 397.03L328.7 397.03L328.7 403.58zM316.83 393.9L328.3 393.9L328.3 394.7L316.83 394.7zM327.9 394.3L327.9 387.75L328.7 387.75L328.7 394.3zM316.83 381.89L328.3 386.26L328.3 387.06L316.83 382.69zM316.83 381.89L328.3 377.52L328.3 378.32L316.83 382.69zM324.08 385.02L324.08 379.56L324.88 379.56L324.88 385.02zM316.83 374.79L328.3 374.79L328.3 375.59L316.83 375.59zM316.43 375.19L316.43 370.28L317.23 370.28L317.23 375.19zM316.43 370.28L316.98 368.64L317.78 368.64L317.23 370.28zM317.38 368.24L317.93 367.69L317.93 368.49L317.38 369.04zM317.93 367.69L319.02 367.15L319.02 367.95L317.93 368.49zM319.02 367.15L320.11 367.15L320.11 367.95L319.02 367.95zM320.11 367.15L321.2 367.69L321.2 368.49L320.11 367.95zM321.2 367.69L321.75 368.24L321.75 369.04L321.2 368.49zM322.15 368.64L322.69 370.28L321.89 370.28L321.35 368.64zM321.89 375.19L321.89 370.28L322.69 370.28L322.69 375.19zM321.89 370.28L322.44 368.64L323.24 368.64L322.69 370.28zM322.84 368.24L323.39 367.69L323.39 368.49L322.84 369.04zM323.39 367.69L324.48 367.15L324.48 367.95L323.39 368.49zM324.48 367.15L326.12 367.15L326.12 367.95L324.48 367.95zM326.12 367.15L327.21 367.69L327.21 368.49L326.12 367.95zM327.21 367.69L327.75 368.24L327.75 369.04L327.21 368.49zM328.15 368.64L328.7 370.28L327.9 370.28L327.35 368.64zM328.7 370.28L328.7 375.19L327.9 375.19L327.9 370.28zM316.83 364.96L322.29 360.6L322.29 361.4L316.83 365.76zM322.29 360.6L328.3 360.6L328.3 361.4L322.29 361.4zM316.83 356.23L322.29 360.6L322.29 361.4L316.83 357.03z"/>
<path fill="#000" d="M390.05 570.44L390.05 584.3L388.95 584.3L388.95 570.44zM389.5 569.89L398.37 569.89L398.37 570.99L389.5 570.99zM389.5 576.49L394.96 576.49L394.96 577.59L389.5 577.59z"/>
<path fill="#000" d="M401.61 580.79L401.61 589.4L400.56 589.4L400.56 580.79zM403.96 580.26L404.37 580.67L404.37 581.72L403.96 581.31zM404.37 580.67L404.78 580.26L404.78 581.31L404.37 581.72zM404.78 581.31L404.37 580.9L404.37 579.86L404.78 580.26zM404.37 580.9L403.96 581.31L403.96 580.26L404.37 579.86zM404.89 583.66L404.89 589.4L403.84 589.4L403.84 583.66zM408.17 583.66L408.17 589.4L407.12 589.4L407.12 583.66zM407.65 584.77L408.88 583.54L408.88 584.59L407.65 585.82zM408.88 583.54L409.7 583.13L409.7 584.18L408.88 584.59zM409.7 583.13L410.93 583.13L410.93 584.18L409.7 584.18zM410.93 583.13L411.75 583.54L411.75 584.59L410.93 584.18zM412.27 584.07L412.68 585.3L411.63 585.3L411.22 584.07zM412.68 585.3L412.68 589.4L411.63 589.4L411.63 585.3zM412.16 584.77L413.39 583.54L413.39 584.59L412.16 585.82zM413.39 583.54L414.21 583.13L414.21 584.18L413.39 584.59zM414.21 583.13L415.44 583.13L415.44 584.18L414.21 584.18zM415.44 583.13L416.26 583.54L416.26 584.59L415.44 584.18zM416.78 584.07L417.19 585.3L416.14 585.3L415.73 584.07zM417.19 585.3L417.19 589.4L416.14 589.4L416.14 585.3zM420.77 589.51L420.36 589.92L420.36 588.88L420.77 588.47zM420.36 589.92L419.95 589.51L419.95 588.47L420.36 588.88zM419.42 588.99L419.83 588.58L420.88 588.58L420.47 588.99zM420.88 588.58L421.29 588.99L420.24 588.99L419.83 588.58zM421.29 588.99L421.29 589.81L420.24 589.81L420.24 588.99zM421.29 589.81L420.88 590.63L419.83 590.63L420.24 589.81zM420.36 591.15L419.95 591.56L419.95 590.51L420.36 590.11z"/>
<path fill="#000" d="M425.05 581.95L425.05 589.3L423.95 589.3L423.95 581.95zM431.15 581.95L431.15 589.3L430.05 589.3L430.05 581.95zM424.5 584.9L430.6 584.9L430.6 586L424.5 586z"/>
<path fill="#000" d="M441.1 581.95L441.1 589.3L440 589.3L440 581.95z"/>
<path fill="#000" d="M460.77 568.2L459.41 569.56L459.41 568.46L460.77 567.1zM459.96 569.01L458.6 571.06L457.5 571.06L458.86 569.01zM458.6 571.06L457.23 573.79L456.13 573.79L457.5 571.06zM457.23 573.79L456.55 577.2L455.45 577.2L456.13 573.79zM456.55 577.2L456.55 579.93L455.45 579.93L455.45 577.2zM456.55 579.93L457.23 583.34L456.13 583.34L455.45 579.93zM457.23 583.34L458.6 586.06L457.5 586.06L456.13 583.34zM458.6 586.06L459.96 588.11L458.86 588.11L457.5 586.06zM459.41 587.56L460.77 588.92L460.77 590.02L459.41 588.66zM466.1 575.15L466.1 584.7L465 584.7L465 575.15zM465.55 577.33L467.59 575.28L467.59 576.38L465.55 578.43zM467.59 575.28L468.96 574.6L468.96 575.7L467.59 576.38zM468.96 574.6L471 574.6L471 575.7L468.96 575.7zM471 574.6L472.37 575.28L472.37 576.38L471 575.7zM472.92 575.83L473.6 577.88L472.5 577.88L471.82 575.83zM473.6 577.88L473.6 584.7L472.5 584.7L472.5 577.88zM473.05 577.33L475.1 575.28L475.1 576.38L473.05 578.43zM475.1 575.28L476.46 574.6L476.46 575.7L475.1 576.38zM476.46 574.6L478.51 574.6L478.51 575.7L476.46 575.7zM478.51 574.6L479.87 575.28L479.87 576.38L478.51 575.7zM480.42 575.83L481.1 577.88L480 577.88L479.32 575.83zM481.1 577.88L481.1 584.7L480 584.7L480 577.88zM492.01 570.38L492.01 581.29L490.91 581.29L490.91 570.38zM492.01 581.29L491.33 583.34L490.23 583.34L490.91 581.29zM491.33 583.34L490.65 584.02L489.55 584.02L490.23 583.34zM490.1 584.57L488.74 585.25L488.74 584.15L490.1 583.47zM488.74 585.25L487.37 585.25L487.37 584.15L488.74 584.15zM487.37 585.25L486.01 584.57L486.01 583.47L487.37 584.15zM485.46 584.02L484.78 583.34L485.88 583.34L486.56 584.02zM484.78 583.34L484.09 581.29L485.19 581.29L485.88 583.34zM484.09 581.29L484.09 579.93L485.19 579.93L485.19 581.29zM496.11 575.15L500.2 584.7L499.1 584.7L495.01 575.15zM504.29 575.15L500.2 584.7L499.1 584.7L503.19 575.15zM500.2 584.7L498.83 587.43L497.73 587.43L499.1 584.7zM498.83 587.43L497.47 588.79L496.37 588.79L497.73 587.43zM496.92 589.34L495.56 590.02L495.56 588.92L496.92 588.24zM495.56 590.02L494.87 590.02L494.87 588.92L495.56 588.92zM507.15 567.1L508.51 568.46L508.51 569.56L507.15 568.2zM509.06 569.01L510.43 571.06L509.33 571.06L507.96 569.01zM510.43 571.06L511.79 573.79L510.69 573.79L509.33 571.06zM511.79 573.79L512.47 577.2L511.37 577.2L510.69 573.79zM512.47 577.2L512.47 579.93L511.37 579.93L511.37 577.2zM512.47 579.93L511.79 583.34L510.69 583.34L511.37 579.93zM511.79 583.34L510.43 586.06L509.33 586.06L510.69 583.34zM510.43 586.06L509.06 588.11L507.96 588.11L509.33 586.06zM508.51 588.66L507.15 590.02L507.15 588.92L508.51 587.56z"/>
</g>
</svg>
</body></html>
